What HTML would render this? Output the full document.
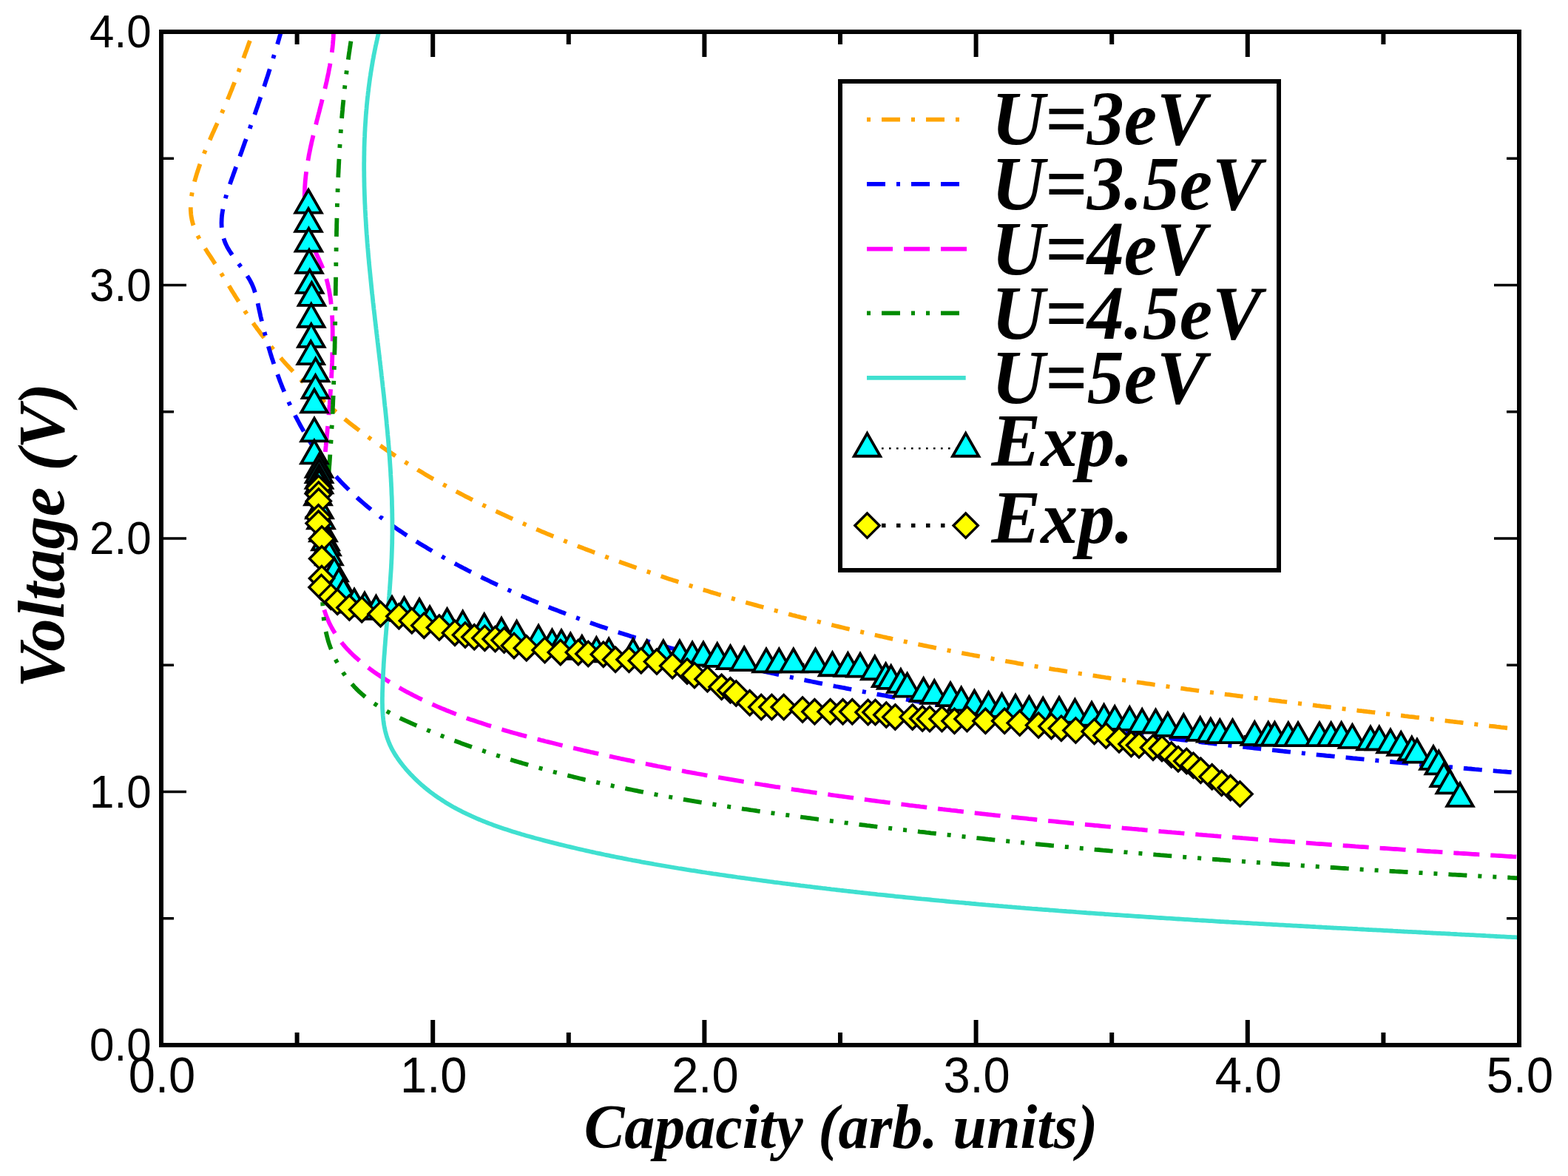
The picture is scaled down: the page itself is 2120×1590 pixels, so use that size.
<!DOCTYPE html>
<html><head><meta charset="utf-8"><title>Voltage vs Capacity</title>
<style>html,body{margin:0;padding:0;background:#fff;overflow:hidden}svg{display:block}.tk{font-family:"Liberation Sans",Arial,Helvetica,sans-serif}.lb{font-family:"Liberation Serif","Times New Roman",Times,serif;font-weight:bold;font-style:italic}</style>
</head><body>
<svg width="2120" height="1590" viewBox="0 0 2120 1590">
<rect x="0" y="0" width="2120" height="1590" fill="#fff"/>
<defs><clipPath id="cp"><rect x="218" y="43" width="1836" height="1370"/></clipPath>
<polygon id="tri" points="0,-20.4 17.7,10.45 -17.7,10.45" fill="#00ffff" stroke="#000" stroke-width="3.8" stroke-linejoin="miter"/>
<polygon id="dia" points="0,-16.6 16.6,0 0,16.6 -16.6,0" fill="#ffff00" stroke="#000" stroke-width="3.4" stroke-linejoin="miter"/>
</defs>
<g clip-path="url(#cp)" fill="none" stroke-linejoin="round">
<polyline points="344.8,36.2 343.8,39.0 342.7,41.9 341.6,44.8 340.6,47.6 339.5,50.4 338.5,53.3 337.5,56.1 336.4,58.9 335.4,61.7 334.4,64.5 333.4,67.4 332.4,70.1 331.3,72.9 330.3,75.7 329.3,78.5 328.3,81.3 327.3,84.0 326.3,86.8 325.2,89.6 324.2,92.3 323.2,95.1 322.2,97.8 321.1,100.6 320.1,103.3 319.1,106.1 318.0,108.8 317.0,111.6 315.9,114.3 314.8,117.0 313.8,119.8 312.7,122.5 311.6,125.2 310.5,128.0 309.4,130.7 308.2,133.4 307.1,136.2 306.0,138.9 304.8,141.6 303.6,144.4 302.4,147.1 301.2,149.8 300.0,152.6 298.8,155.3 297.6,158.1 296.4,160.8 295.1,163.6 293.9,166.3 292.6,169.1 291.4,171.8 290.1,174.6 288.9,177.4 287.6,180.1 286.4,182.9 285.2,185.7 284.0,188.5 282.7,191.3 281.5,194.1 280.3,196.9 279.2,199.7 278.0,202.5 276.8,205.3 275.7,208.1 274.6,210.9 273.5,213.8 272.4,216.6 271.3,219.5 270.3,222.3 269.3,225.2 268.3,228.1 267.4,231.0 266.4,233.9 265.5,236.8 264.7,239.7 263.8,242.6 263.0,245.5 262.3,248.5 261.6,251.4 260.9,254.3 260.3,257.3 259.8,260.2 259.3,263.2 258.8,266.1 258.5,269.0 258.2,271.9 258.0,274.8 257.8,277.7 257.8,280.6 257.8,283.5 258.0,286.4 258.2,289.2 258.5,292.0 259.0,294.8 259.5,297.6 260.2,300.3 260.9,303.0 261.8,305.7 262.8,308.4 263.8,311.1 264.9,313.7 266.1,316.3 267.4,318.9 268.8,321.5 270.2,324.1 271.6,326.6 273.1,329.2 274.7,331.7 276.3,334.3 277.9,336.8 279.5,339.3 281.1,341.9 282.8,344.4 284.5,346.9 286.1,349.4 287.8,352.0 289.4,354.5 291.0,357.0 292.7,359.6 294.3,362.1 295.9,364.7 297.5,367.2 299.1,369.7 300.7,372.3 302.3,374.8 303.8,377.4 305.4,379.9 307.0,382.5 308.6,385.0 310.2,387.6 311.7,390.1 313.3,392.7 314.9,395.2 316.5,397.7 318.0,400.3 319.6,402.8 321.2,405.3 322.8,407.8 324.4,410.3 326.0,412.8 327.7,415.3 329.3,417.8 330.9,420.3 332.6,422.8 334.2,425.3 335.9,427.7 337.6,430.2 339.3,432.6 341.0,435.1 342.7,437.5 344.4,439.9 346.2,442.3 347.9,444.7 349.7,447.1 351.5,449.5 353.3,451.9 355.1,454.2 356.9,456.6 358.7,459.0 360.6,461.3 362.4,463.6 364.3,465.9 366.2,468.2 368.1,470.5 370.0,472.8 371.9,475.1 373.8,477.4 375.7,479.7 377.7,481.9 379.7,484.2 381.6,486.4 383.6,488.6 385.6,490.9 387.6,493.1 389.6,495.3 391.6,497.5 393.7,499.6 395.7,501.8 397.8,504.0 399.8,506.1 401.9,508.3 404.0,510.4 406.1,512.6 408.2,514.7 410.3,516.8 412.5,518.9 414.6,521.0 416.7,523.1 418.9,525.2 421.1,527.2 423.2,529.3 425.4,531.3 427.6,533.4 429.8,535.4 432.0,537.4 434.2,539.5 436.5,541.5 438.7,543.5 441.0,545.4 443.2,547.4 445.5,549.4 447.7,551.4 450.0,553.3 452.3,555.3 454.6,557.2 456.9,559.1 459.2,561.0 461.5,562.9 463.9,564.8 466.2,566.7 468.5,568.6 470.9,570.5 473.3,572.4 475.6,574.2 478.0,576.1 480.4,577.9 482.8,579.7 485.1,581.5 487.5,583.4 490.0,585.2 492.4,587.0 494.8,588.7 497.2,590.5 499.6,592.3 502.1,594.1 504.5,595.8 507.0,597.5 509.4,599.3 511.9,601.0 514.4,602.7 516.8,604.4 519.3,606.1 521.8,607.8 524.3,609.5 526.8,611.2 529.3,612.8 531.8,614.5 534.3,616.1 536.8,617.8 539.3,619.4 541.9,621.0 544.4,622.6 546.9,624.2 549.5,625.8 552.0,627.4 554.6,629.0 557.1,630.6 559.7,632.2 562.3,633.7 564.8,635.3 567.4,636.8 570.0,638.3 572.6,639.9 575.1,641.4 577.7,642.9 580.3,644.4 582.9,645.9 585.5,647.4 588.2,648.8 590.8,650.3 593.4,651.8 596.0,653.2 598.6,654.7 601.3,656.1 603.9,657.6 606.5,659.0 609.2,660.4 611.8,661.8 614.5,663.2 617.1,664.6 619.8,666.0 622.4,667.4 625.1,668.8 627.8,670.2 630.4,671.6 633.1,672.9 635.8,674.3 638.5,675.6 641.1,677.0 643.8,678.3 646.5,679.6 649.2,681.0 651.9,682.3 654.6,683.6 657.3,684.9 660.0,686.2 662.7,687.5 665.4,688.8 668.1,690.1 670.9,691.3 673.6,692.6 676.3,693.9 679.0,695.1 681.8,696.4 684.5,697.6 687.2,698.9 689.9,700.1 692.7,701.3 695.4,702.6 698.2,703.8 700.9,705.0 703.7,706.2 706.4,707.4 709.2,708.6 711.9,709.8 714.7,711.0 717.4,712.2 720.2,713.4 722.9,714.6 725.7,715.8 728.5,716.9 731.2,718.1 734.0,719.3 736.8,720.4 739.5,721.6 742.3,722.7 745.1,723.9 747.8,725.0 750.6,726.1 753.4,727.3 756.2,728.4 759.0,729.5 761.7,730.6 764.5,731.8 767.3,732.9 770.1,734.0 772.9,735.1 775.7,736.2 778.5,737.3 781.2,738.4 784.0,739.5 786.8,740.5 789.6,741.6 792.4,742.7 795.2,743.8 798.0,744.8 800.8,745.9 803.6,747.0 806.4,748.0 809.2,749.1 812.0,750.1 814.8,751.2 817.6,752.2 820.4,753.3 823.2,754.3 826.1,755.3 828.9,756.4 831.7,757.4 834.5,758.4 837.3,759.4 840.1,760.5 842.9,761.5 845.8,762.5 848.6,763.5 851.4,764.5 854.2,765.5 857.0,766.5 859.9,767.5 862.7,768.5 865.5,769.4 868.3,770.4 871.2,771.4 874.0,772.4 876.8,773.3 879.6,774.3 882.5,775.3 885.3,776.2 888.1,777.2 891.0,778.1 893.8,779.1 896.6,780.0 899.5,781.0 902.3,781.9 905.2,782.9 908.0,783.8 910.8,784.7 913.7,785.6 916.5,786.6 919.4,787.5 922.2,788.4 925.1,789.3 927.9,790.2 930.8,791.1 933.6,792.0 936.5,792.9 939.3,793.8 942.2,794.7 945.0,795.6 947.9,796.5 950.7,797.4 953.6,798.2 956.5,799.1 959.3,800.0 962.2,800.9 965.0,801.7 967.9,802.6 970.8,803.5 973.6,804.3 976.5,805.2 979.4,806.0 982.2,806.9 985.1,807.7 988.0,808.6 990.8,809.4 993.7,810.2 996.6,811.1 999.4,811.9 1002.3,812.7 1005.2,813.5 1008.1,814.4 1010.9,815.2 1013.8,816.0 1016.7,816.8 1019.6,817.6 1022.5,818.4 1025.3,819.2 1028.2,820.0 1031.1,820.8 1034.0,821.6 1036.9,822.4 1039.8,823.2 1042.6,824.0 1045.5,824.8 1048.4,825.5 1051.3,826.3 1054.2,827.1 1057.1,827.9 1060.0,828.6 1062.9,829.4 1065.8,830.1 1068.6,830.9 1071.5,831.7 1074.4,832.4 1077.3,833.2 1080.2,833.9 1083.1,834.7 1086.0,835.4 1088.9,836.1 1091.8,836.9 1094.7,837.6 1097.6,838.3 1100.5,839.1 1103.4,839.8 1106.3,840.5 1109.2,841.2 1112.1,842.0 1115.0,842.7 1117.9,843.4 1120.9,844.1 1123.8,844.8 1126.7,845.5 1129.6,846.2 1132.5,846.9 1135.4,847.6 1138.3,848.3 1141.2,849.0 1144.1,849.7 1147.1,850.4 1150.0,851.0 1152.9,851.7 1155.8,852.4 1158.7,853.1 1161.6,853.8 1164.5,854.4 1167.5,855.1 1170.4,855.8 1173.3,856.4 1176.2,857.1 1179.1,857.7 1182.1,858.4 1185.0,859.0 1187.9,859.7 1190.8,860.3 1193.8,861.0 1196.7,861.6 1199.6,862.3 1202.5,862.9 1205.5,863.6 1208.4,864.2 1211.3,864.8 1214.3,865.5 1217.2,866.1 1220.1,866.7 1223.0,867.3 1226.0,867.9 1228.9,868.6 1231.8,869.2 1234.8,869.8 1237.7,870.4 1240.6,871.0 1243.6,871.6 1246.5,872.2 1249.4,872.8 1252.4,873.4 1255.3,874.0 1258.3,874.6 1261.2,875.2 1264.1,875.8 1267.1,876.4 1270.0,877.0 1273.0,877.6 1275.9,878.2 1278.8,878.7 1281.8,879.3 1284.7,879.9 1287.7,880.5 1290.6,881.0 1293.6,881.6 1296.5,882.2 1299.4,882.7 1302.4,883.3 1305.3,883.9 1308.3,884.4 1311.2,885.0 1314.2,885.5 1317.1,886.1 1320.1,886.6 1323.0,887.2 1326.0,887.7 1328.9,888.3 1331.9,888.8 1334.8,889.4 1337.8,889.9 1340.7,890.4 1343.7,891.0 1346.6,891.5 1349.6,892.1 1352.5,892.6 1355.5,893.1 1358.5,893.6 1361.4,894.2 1364.4,894.7 1367.3,895.2 1370.3,895.7 1373.2,896.2 1376.2,896.8 1379.1,897.3 1382.1,897.8 1385.1,898.3 1388.0,898.8 1391.0,899.3 1393.9,899.8 1396.9,900.3 1399.9,900.8 1402.8,901.3 1405.8,901.8 1408.7,902.3 1411.7,902.8 1414.7,903.3 1417.6,903.8 1420.6,904.3 1423.6,904.8 1426.5,905.3 1429.5,905.7 1432.4,906.2 1435.4,906.7 1438.4,907.2 1441.3,907.7 1444.3,908.1 1447.3,908.6 1450.2,909.1 1453.2,909.6 1456.2,910.0 1459.1,910.5 1462.1,911.0 1465.1,911.4 1468.0,911.9 1471.0,912.3 1474.0,912.8 1476.9,913.3 1479.9,913.7 1482.9,914.2 1485.9,914.6 1488.8,915.1 1491.8,915.5 1494.8,916.0 1497.7,916.4 1500.7,916.9 1503.7,917.3 1506.6,917.8 1509.6,918.2 1512.6,918.7 1515.6,919.1 1518.5,919.5 1521.5,920.0 1524.5,920.4 1527.4,920.9 1530.4,921.3 1533.4,921.7 1536.4,922.2 1539.3,922.6 1542.3,923.0 1545.3,923.4 1548.3,923.9 1551.2,924.3 1554.2,924.7 1557.2,925.1 1560.2,925.6 1563.1,926.0 1566.1,926.4 1569.1,926.8 1572.1,927.2 1575.0,927.7 1578.0,928.1 1581.0,928.5 1584.0,928.9 1586.9,929.3 1589.9,929.7 1592.9,930.1 1595.9,930.5 1598.8,930.9 1601.8,931.3 1604.8,931.8 1607.8,932.2 1610.7,932.6 1613.7,933.0 1616.7,933.4 1619.7,933.8 1622.6,934.2 1625.6,934.6 1628.6,934.9 1631.6,935.3 1634.6,935.7 1637.5,936.1 1640.5,936.5 1643.5,936.9 1646.5,937.3 1649.4,937.7 1652.4,938.1 1655.4,938.5 1658.4,938.9 1661.4,939.2 1664.3,939.6 1667.3,940.0 1670.3,940.4 1673.3,940.8 1676.2,941.2 1679.2,941.5 1682.2,941.9 1685.2,942.3 1688.2,942.7 1691.1,943.1 1694.1,943.4 1697.1,943.8 1700.1,944.2 1703.0,944.6 1706.0,944.9 1709.0,945.3 1712.0,945.7 1714.9,946.0 1717.9,946.4 1720.9,946.8 1723.9,947.2 1726.9,947.5 1729.8,947.9 1732.8,948.3 1735.8,948.6 1738.8,949.0 1741.7,949.4 1744.7,949.7 1747.7,950.1 1750.7,950.5 1753.6,950.8 1756.6,951.2 1759.6,951.5 1762.6,951.9 1765.6,952.3 1768.5,952.6 1771.5,953.0 1774.5,953.3 1777.5,953.7 1780.4,954.1 1783.4,954.4 1786.4,954.8 1789.4,955.1 1792.3,955.5 1795.3,955.8 1798.3,956.2 1801.3,956.5 1804.2,956.9 1807.2,957.3 1810.2,957.6 1813.1,958.0 1816.1,958.3 1819.1,958.7 1822.1,959.0 1825.0,959.4 1828.0,959.7 1831.0,960.1 1834.0,960.4 1836.9,960.8 1839.9,961.1 1842.9,961.5 1845.8,961.8 1848.8,962.2 1851.8,962.5 1854.8,962.9 1857.7,963.2 1860.7,963.6 1863.7,963.9 1866.6,964.3 1869.6,964.6 1872.6,965.0 1875.5,965.3 1878.5,965.6 1881.5,966.0 1884.4,966.3 1887.4,966.7 1890.4,967.0 1893.3,967.4 1896.3,967.7 1899.3,968.1 1902.2,968.4 1905.2,968.8 1908.2,969.1 1911.1,969.4 1914.1,969.8 1917.1,970.1 1920.0,970.5 1923.0,970.8 1926.0,971.2 1928.9,971.5 1931.9,971.9 1934.9,972.2 1937.8,972.6 1940.8,972.9 1943.7,973.2 1946.7,973.6 1949.7,973.9 1952.6,974.3 1955.6,974.6 1958.5,975.0 1961.5,975.3 1964.5,975.7 1967.4,976.0 1970.4,976.4 1973.3,976.7 1976.3,977.0 1979.3,977.4 1982.2,977.7 1985.2,978.1 1988.1,978.4 1991.1,978.8 1994.0,979.1 1997.0,979.5 1999.9,979.8 2002.9,980.2 2005.8,980.5 2008.8,980.9 2011.8,981.2 2014.7,981.6 2017.7,981.9 2020.6,982.2 2023.6,982.6 2026.5,982.9 2029.5,983.3 2032.4,983.6 2035.4,984.0 2038.3,984.3 2041.3,984.7 2044.2,985.1 2047.1,985.4 2050.1,985.8 2053.0,986.1 2056.0,986.5 2058.9,986.8" stroke="#ffa500" stroke-width="5.8" stroke-dasharray="5,15,25,15"/>
<polyline points="382.0,35.8 381.2,38.7 380.3,41.6 379.5,44.6 378.7,47.5 377.8,50.4 377.0,53.3 376.1,56.2 375.3,59.2 374.4,62.0 373.5,64.9 372.7,67.8 371.8,70.7 370.9,73.6 370.0,76.5 369.2,79.3 368.3,82.2 367.4,85.0 366.5,87.9 365.6,90.8 364.7,93.6 363.8,96.4 362.9,99.3 362.0,102.1 361.1,105.0 360.1,107.8 359.2,110.6 358.3,113.4 357.4,116.3 356.4,119.1 355.5,121.9 354.6,124.7 353.6,127.5 352.7,130.4 351.7,133.2 350.8,136.0 349.8,138.8 348.9,141.6 347.9,144.4 346.9,147.2 346.0,150.0 345.0,152.9 344.0,155.7 343.1,158.5 342.1,161.3 341.1,164.1 340.1,166.9 339.1,169.7 338.1,172.6 337.2,175.4 336.2,178.2 335.2,181.0 334.2,183.9 333.2,186.7 332.2,189.5 331.1,192.3 330.1,195.2 329.1,198.0 328.1,200.9 327.1,203.7 326.1,206.5 325.0,209.4 324.0,212.3 323.0,215.1 322.0,218.0 320.9,220.9 319.9,223.7 318.8,226.6 317.8,229.5 316.8,232.4 315.7,235.3 314.7,238.2 313.6,241.1 312.6,244.0 311.6,246.9 310.6,249.8 309.6,252.7 308.6,255.6 307.7,258.5 306.7,261.5 305.9,264.4 305.0,267.3 304.2,270.2 303.5,273.1 302.8,276.0 302.2,278.8 301.6,281.7 301.1,284.6 300.6,287.5 300.2,290.3 299.9,293.1 299.7,296.0 299.6,298.8 299.5,301.6 299.6,304.4 299.7,307.1 299.9,309.9 300.3,312.6 300.7,315.4 301.3,318.1 302.0,320.8 302.8,323.4 303.7,326.1 304.7,328.7 305.9,331.3 307.2,333.9 308.7,336.4 310.2,339.0 311.8,341.5 313.5,344.0 315.2,346.5 317.0,349.0 318.9,351.5 320.7,354.1 322.6,356.6 324.5,359.1 326.4,361.6 328.2,364.1 330.1,366.6 331.8,369.2 333.6,371.8 335.2,374.4 336.8,377.0 338.3,379.6 339.7,382.3 341.0,385.0 342.1,387.7 343.2,390.4 344.1,393.2 345.0,396.0 345.8,398.8 346.6,401.7 347.3,404.5 348.0,407.4 348.6,410.2 349.2,413.1 349.8,416.0 350.4,418.9 351.1,421.8 351.7,424.7 352.3,427.6 353.0,430.4 353.7,433.3 354.4,436.2 355.1,439.1 355.8,442.0 356.5,444.9 357.2,447.8 358.0,450.7 358.7,453.6 359.5,456.5 360.3,459.4 361.1,462.3 361.9,465.1 362.8,468.0 363.6,470.9 364.5,473.8 365.3,476.7 366.2,479.5 367.1,482.4 368.0,485.3 369.0,488.1 369.9,491.0 370.9,493.8 371.8,496.7 372.8,499.5 373.8,502.4 374.8,505.2 375.9,508.0 376.9,510.8 378.0,513.7 379.0,516.5 380.1,519.3 381.2,522.1 382.3,524.9 383.5,527.6 384.6,530.4 385.8,533.2 387.0,535.9 388.2,538.7 389.4,541.4 390.6,544.2 391.9,546.9 393.2,549.6 394.4,552.3 395.7,555.0 397.1,557.7 398.4,560.4 399.7,563.1 401.1,565.7 402.5,568.4 403.9,571.0 405.3,573.7 406.7,576.3 408.2,578.9 409.7,581.5 411.1,584.1 412.6,586.6 414.2,589.2 415.7,591.7 417.3,594.3 418.8,596.8 420.4,599.3 422.1,601.8 423.7,604.3 425.3,606.8 427.0,609.2 428.7,611.6 430.4,614.1 432.1,616.5 433.9,618.9 435.6,621.2 437.4,623.6 439.2,626.0 441.0,628.3 442.9,630.6 444.7,632.9 446.6,635.2 448.5,637.5 450.5,639.7 452.4,641.9 454.3,644.2 456.3,646.4 458.3,648.5 460.3,650.7 462.4,652.9 464.4,655.0 466.5,657.1 468.6,659.2 470.7,661.3 472.8,663.4 474.9,665.4 477.1,667.5 479.2,669.5 481.4,671.5 483.6,673.5 485.8,675.5 488.1,677.5 490.3,679.4 492.6,681.4 494.8,683.3 497.1,685.2 499.4,687.1 501.7,689.0 504.1,690.9 506.4,692.8 508.8,694.6 511.1,696.4 513.5,698.3 515.9,700.1 518.3,701.9 520.7,703.7 523.1,705.4 525.6,707.2 528.0,709.0 530.5,710.7 532.9,712.4 535.4,714.1 537.9,715.8 540.4,717.5 542.9,719.2 545.4,720.9 547.9,722.5 550.5,724.2 553.0,725.8 555.6,727.5 558.1,729.1 560.7,730.7 563.2,732.3 565.8,733.9 568.4,735.5 571.0,737.0 573.6,738.6 576.2,740.1 578.8,741.7 581.4,743.2 584.0,744.7 586.6,746.3 589.3,747.8 591.9,749.3 594.5,750.7 597.2,752.2 599.8,753.7 602.5,755.2 605.1,756.6 607.8,758.1 610.4,759.5 613.1,761.0 615.7,762.4 618.4,763.8 621.1,765.2 623.7,766.6 626.4,768.0 629.1,769.4 631.7,770.8 634.4,772.2 637.1,773.5 639.8,774.9 642.5,776.2 645.2,777.6 647.9,778.9 650.6,780.3 653.2,781.6 655.9,782.9 658.7,784.2 661.4,785.5 664.1,786.8 666.8,788.1 669.5,789.4 672.2,790.7 674.9,791.9 677.6,793.2 680.4,794.5 683.1,795.7 685.8,797.0 688.6,798.2 691.3,799.4 694.0,800.6 696.8,801.9 699.5,803.1 702.2,804.3 705.0,805.5 707.7,806.7 710.5,807.8 713.2,809.0 716.0,810.2 718.7,811.4 721.5,812.5 724.3,813.7 727.0,814.8 729.8,815.9 732.6,817.1 735.3,818.2 738.1,819.3 740.9,820.4 743.7,821.6 746.4,822.7 749.2,823.8 752.0,824.8 754.8,825.9 757.6,827.0 760.4,828.1 763.2,829.1 766.0,830.2 768.7,831.3 771.5,832.3 774.3,833.4 777.1,834.4 780.0,835.4 782.8,836.5 785.6,837.5 788.4,838.5 791.2,839.5 794.0,840.5 796.8,841.5 799.6,842.5 802.5,843.5 805.3,844.5 808.1,845.4 810.9,846.4 813.8,847.4 816.6,848.3 819.4,849.3 822.2,850.3 825.1,851.2 827.9,852.1 830.7,853.1 833.6,854.0 836.4,854.9 839.3,855.9 842.1,856.8 845.0,857.7 847.8,858.6 850.7,859.5 853.5,860.4 856.4,861.3 859.2,862.2 862.1,863.0 864.9,863.9 867.8,864.8 870.7,865.7 873.5,866.5 876.4,867.4 879.2,868.2 882.1,869.1 885.0,869.9 887.8,870.8 890.7,871.6 893.6,872.4 896.5,873.3 899.3,874.1 902.2,874.9 905.1,875.7 908.0,876.5 910.9,877.3 913.7,878.1 916.6,878.9 919.5,879.7 922.4,880.5 925.3,881.3 928.2,882.1 931.1,882.9 934.0,883.6 936.8,884.4 939.7,885.2 942.6,885.9 945.5,886.7 948.4,887.4 951.3,888.2 954.2,888.9 957.1,889.7 960.0,890.4 962.9,891.1 965.8,891.9 968.7,892.6 971.6,893.3 974.6,894.0 977.5,894.8 980.4,895.5 983.3,896.2 986.2,896.9 989.1,897.6 992.0,898.3 994.9,899.0 997.9,899.7 1000.8,900.4 1003.7,901.1 1006.6,901.7 1009.5,902.4 1012.4,903.1 1015.4,903.8 1018.3,904.4 1021.2,905.1 1024.1,905.8 1027.1,906.4 1030.0,907.1 1032.9,907.8 1035.8,908.4 1038.8,909.1 1041.7,909.7 1044.6,910.3 1047.6,911.0 1050.5,911.6 1053.4,912.3 1056.3,912.9 1059.3,913.5 1062.2,914.2 1065.1,914.8 1068.1,915.4 1071.0,916.0 1073.9,916.6 1076.9,917.3 1079.8,917.9 1082.8,918.5 1085.7,919.1 1088.6,919.7 1091.6,920.3 1094.5,920.9 1097.5,921.5 1100.4,922.1 1103.3,922.7 1106.3,923.3 1109.2,923.9 1112.2,924.5 1115.1,925.1 1118.0,925.6 1121.0,926.2 1123.9,926.8 1126.9,927.4 1129.8,928.0 1132.8,928.5 1135.7,929.1 1138.7,929.7 1141.6,930.2 1144.6,930.8 1147.5,931.4 1150.4,931.9 1153.4,932.5 1156.3,933.1 1159.3,933.6 1162.2,934.2 1165.2,934.7 1168.1,935.3 1171.1,935.8 1174.0,936.4 1177.0,936.9 1179.9,937.5 1182.9,938.0 1185.8,938.6 1188.8,939.1 1191.7,939.7 1194.7,940.2 1197.6,940.7 1200.6,941.3 1203.5,941.8 1206.5,942.4 1209.4,942.9 1212.4,943.4 1215.3,943.9 1218.3,944.5 1221.2,945.0 1224.2,945.5 1227.1,946.0 1230.1,946.6 1233.0,947.1 1236.0,947.6 1238.9,948.1 1241.9,948.6 1244.9,949.1 1247.8,949.7 1250.8,950.2 1253.7,950.7 1256.7,951.2 1259.6,951.7 1262.6,952.2 1265.5,952.7 1268.5,953.2 1271.4,953.7 1274.4,954.2 1277.4,954.7 1280.3,955.2 1283.3,955.7 1286.2,956.2 1289.2,956.6 1292.1,957.1 1295.1,957.6 1298.1,958.1 1301.0,958.6 1304.0,959.1 1306.9,959.6 1309.9,960.0 1312.9,960.5 1315.8,961.0 1318.8,961.5 1321.7,961.9 1324.7,962.4 1327.7,962.9 1330.6,963.4 1333.6,963.8 1336.5,964.3 1339.5,964.8 1342.5,965.2 1345.4,965.7 1348.4,966.1 1351.3,966.6 1354.3,967.1 1357.3,967.5 1360.2,968.0 1363.2,968.4 1366.1,968.9 1369.1,969.3 1372.1,969.8 1375.0,970.2 1378.0,970.7 1381.0,971.1 1383.9,971.6 1386.9,972.0 1389.9,972.5 1392.8,972.9 1395.8,973.3 1398.7,973.8 1401.7,974.2 1404.7,974.6 1407.6,975.1 1410.6,975.5 1413.6,975.9 1416.5,976.4 1419.5,976.8 1422.5,977.2 1425.4,977.7 1428.4,978.1 1431.4,978.5 1434.3,978.9 1437.3,979.3 1440.3,979.8 1443.2,980.2 1446.2,980.6 1449.2,981.0 1452.1,981.4 1455.1,981.8 1458.1,982.3 1461.0,982.7 1464.0,983.1 1467.0,983.5 1469.9,983.9 1472.9,984.3 1475.9,984.7 1478.8,985.1 1481.8,985.5 1484.8,985.9 1487.8,986.3 1490.7,986.7 1493.7,987.1 1496.7,987.5 1499.6,987.9 1502.6,988.3 1505.6,988.7 1508.5,989.1 1511.5,989.5 1514.5,989.8 1517.5,990.2 1520.4,990.6 1523.4,991.0 1526.4,991.4 1529.3,991.8 1532.3,992.2 1535.3,992.5 1538.3,992.9 1541.2,993.3 1544.2,993.7 1547.2,994.1 1550.2,994.4 1553.1,994.8 1556.1,995.2 1559.1,995.5 1562.0,995.9 1565.0,996.3 1568.0,996.7 1571.0,997.0 1573.9,997.4 1576.9,997.8 1579.9,998.1 1582.9,998.5 1585.8,998.8 1588.8,999.2 1591.8,999.6 1594.8,999.9 1597.7,1000.3 1600.7,1000.6 1603.7,1001.0 1606.7,1001.3 1609.6,1001.7 1612.6,1002.1 1615.6,1002.4 1618.6,1002.8 1621.5,1003.1 1624.5,1003.5 1627.5,1003.8 1630.5,1004.1 1633.4,1004.5 1636.4,1004.8 1639.4,1005.2 1642.4,1005.5 1645.4,1005.9 1648.3,1006.2 1651.3,1006.5 1654.3,1006.9 1657.3,1007.2 1660.2,1007.6 1663.2,1007.9 1666.2,1008.2 1669.2,1008.6 1672.2,1008.9 1675.1,1009.2 1678.1,1009.6 1681.1,1009.9 1684.1,1010.2 1687.0,1010.5 1690.0,1010.9 1693.0,1011.2 1696.0,1011.5 1699.0,1011.8 1701.9,1012.2 1704.9,1012.5 1707.9,1012.8 1710.9,1013.1 1713.9,1013.4 1716.8,1013.8 1719.8,1014.1 1722.8,1014.4 1725.8,1014.7 1728.8,1015.0 1731.7,1015.3 1734.7,1015.7 1737.7,1016.0 1740.7,1016.3 1743.7,1016.6 1746.6,1016.9 1749.6,1017.2 1752.6,1017.5 1755.6,1017.8 1758.6,1018.1 1761.5,1018.4 1764.5,1018.7 1767.5,1019.1 1770.5,1019.4 1773.5,1019.7 1776.5,1020.0 1779.4,1020.3 1782.4,1020.6 1785.4,1020.9 1788.4,1021.2 1791.4,1021.5 1794.3,1021.8 1797.3,1022.0 1800.3,1022.3 1803.3,1022.6 1806.3,1022.9 1809.3,1023.2 1812.2,1023.5 1815.2,1023.8 1818.2,1024.1 1821.2,1024.4 1824.2,1024.7 1827.2,1025.0 1830.1,1025.3 1833.1,1025.5 1836.1,1025.8 1839.1,1026.1 1842.1,1026.4 1845.1,1026.7 1848.0,1027.0 1851.0,1027.2 1854.0,1027.5 1857.0,1027.8 1860.0,1028.1 1863.0,1028.4 1865.9,1028.6 1868.9,1028.9 1871.9,1029.2 1874.9,1029.5 1877.9,1029.8 1880.9,1030.0 1883.9,1030.3 1886.8,1030.6 1889.8,1030.9 1892.8,1031.1 1895.8,1031.4 1898.8,1031.7 1901.8,1031.9 1904.7,1032.2 1907.7,1032.5 1910.7,1032.8 1913.7,1033.0 1916.7,1033.3 1919.7,1033.6 1922.7,1033.8 1925.6,1034.1 1928.6,1034.4 1931.6,1034.6 1934.6,1034.9 1937.6,1035.1 1940.6,1035.4 1943.6,1035.7 1946.5,1035.9 1949.5,1036.2 1952.5,1036.5 1955.5,1036.7 1958.5,1037.0 1961.5,1037.2 1964.5,1037.5 1967.5,1037.8 1970.4,1038.0 1973.4,1038.3 1976.4,1038.5 1979.4,1038.8 1982.4,1039.0 1985.4,1039.3 1988.4,1039.5 1991.3,1039.8 1994.3,1040.1 1997.3,1040.3 2000.3,1040.6 2003.3,1040.8 2006.3,1041.1 2009.3,1041.3 2012.2,1041.6 2015.2,1041.8 2018.2,1042.1 2021.2,1042.3 2024.2,1042.6 2027.2,1042.8 2030.2,1043.1 2033.2,1043.3 2036.1,1043.5 2039.1,1043.8 2042.1,1044.0 2045.1,1044.3 2048.1,1044.5 2051.1,1044.8 2054.1,1045.0 2057.1,1045.3 2060.0,1045.5" stroke="#0000ff" stroke-width="5.8" stroke-dasharray="25,15,5,15,25,15"/>
<polyline points="451.1,36.0 451.1,39.0 451.1,42.0 451.0,44.9 450.8,47.9 450.7,50.9 450.5,53.8 450.2,56.8 450.0,59.8 449.7,62.7 449.4,65.7 449.0,68.6 448.7,71.6 448.2,74.5 447.8,77.5 447.4,80.4 446.9,83.4 446.4,86.3 445.9,89.3 445.3,92.2 444.7,95.2 444.2,98.1 443.6,101.0 442.9,104.0 442.3,106.9 441.7,109.9 441.0,112.8 440.3,115.8 439.6,118.7 438.9,121.6 438.2,124.6 437.5,127.5 436.8,130.4 436.0,133.4 435.3,136.3 434.6,139.2 433.8,142.2 433.1,145.1 432.3,148.1 431.6,151.0 430.8,153.9 430.0,156.9 429.3,159.8 428.5,162.7 427.8,165.7 427.1,168.6 426.3,171.5 425.6,174.5 424.9,177.4 424.2,180.3 423.5,183.3 422.8,186.2 422.1,189.2 421.4,192.1 420.8,195.0 420.1,198.0 419.5,200.9 418.9,203.9 418.3,206.8 417.7,209.7 417.2,212.7 416.7,215.6 416.2,218.6 415.7,221.5 415.2,224.5 414.8,227.4 414.4,230.4 414.0,233.3 413.6,236.3 413.3,239.2 413.0,242.2 412.7,245.1 412.5,248.1 412.3,251.0 412.1,254.0 412.0,257.0 411.9,259.9 411.8,262.9 411.8,265.9 411.8,268.8 411.9,271.8 412.0,274.7 412.1,277.7 412.3,280.7 412.5,283.6 412.8,286.6 413.1,289.5 413.4,292.5 413.8,295.4 414.2,298.3 414.7,301.3 415.3,304.2 415.8,307.1 416.5,310.0 417.1,312.9 417.9,315.7 418.7,318.6 419.5,321.4 420.4,324.3 421.3,327.1 422.3,329.9 423.4,332.7 424.5,335.4 425.6,338.2 426.8,340.9 428.0,343.7 429.3,346.4 430.5,349.1 431.8,351.8 433.0,354.6 434.2,357.3 435.4,360.1 436.5,362.8 437.5,365.6 438.6,368.4 439.5,371.3 440.4,374.1 441.3,377.0 442.1,379.9 442.8,382.8 443.5,385.7 444.1,388.6 444.8,391.5 445.3,394.5 445.8,397.4 446.3,400.4 446.8,403.4 447.2,406.4 447.5,409.4 447.9,412.4 448.2,415.4 448.4,418.4 448.7,421.5 448.9,424.5 449.1,427.5 449.2,430.6 449.4,433.6 449.5,436.6 449.5,439.7 449.6,442.7 449.7,445.8 449.7,448.8 449.7,451.8 449.7,454.9 449.7,457.9 449.7,460.9 449.6,464.0 449.6,467.0 449.5,470.0 449.5,473.0 449.4,476.0 449.3,479.0 449.3,481.9 449.2,484.9 449.1,487.9 449.0,490.9 448.8,493.8 448.7,496.8 448.6,499.8 448.5,502.7 448.3,505.7 448.2,508.6 448.0,511.5 447.8,514.5 447.7,517.4 447.5,520.4 447.3,523.3 447.1,526.2 446.9,529.2 446.7,532.1 446.5,535.0 446.3,537.9 446.1,540.9 445.9,543.8 445.7,546.7 445.4,549.6 445.2,552.5 445.0,555.4 444.7,558.4 444.5,561.3 444.2,564.2 444.0,567.1 443.7,570.0 443.4,573.0 443.2,575.9 442.9,578.8 442.6,581.7 442.4,584.6 442.1,587.6 441.8,590.5 441.5,593.4 441.2,596.4 440.9,599.3 440.7,602.2 440.4,605.2 440.1,608.1 439.8,611.1 439.5,614.0 439.2,617.0 438.9,619.9 438.6,622.9 438.3,625.8 438.0,628.8 437.7,631.8 437.4,634.8 437.1,637.8 436.8,640.7 436.5,643.7 436.2,646.7 435.9,649.7 435.6,652.7 435.3,655.8 435.0,658.8 434.7,661.8 434.4,664.9 434.1,667.9 433.8,670.9 433.5,674.0 433.2,677.1 432.9,680.1 432.6,683.2 432.3,686.3 432.0,689.4 431.7,692.5 431.5,695.6 431.2,698.7 431.0,701.8 430.7,704.9 430.5,708.0 430.2,711.2 430.0,714.3 429.8,717.4 429.6,720.5 429.4,723.6 429.3,726.8 429.1,729.9 429.0,733.0 428.9,736.1 428.8,739.2 428.7,742.3 428.7,745.4 428.6,748.5 428.6,751.6 428.7,754.7 428.7,757.8 428.8,760.8 428.9,763.9 429.0,766.9 429.1,770.0 429.3,773.0 429.5,776.0 429.7,779.0 430.0,782.0 430.3,785.0 430.6,787.9 431.0,790.9 431.4,793.8 431.9,796.8 432.3,799.7 432.9,802.5 433.4,805.4 434.0,808.3 434.6,811.1 435.3,813.9 436.0,816.7 436.8,819.5 437.6,822.2 438.5,825.0 439.4,827.7 440.3,830.4 441.3,833.0 442.4,835.7 443.5,838.3 444.6,840.9 445.8,843.4 447.1,846.0 448.4,848.5 449.8,851.0 451.2,853.4 452.7,855.8 454.2,858.2 455.8,860.6 457.4,862.9 459.1,865.2 460.9,867.5 462.7,869.8 464.5,872.0 466.4,874.2 468.4,876.4 470.4,878.5 472.4,880.6 474.5,882.7 476.6,884.8 478.8,886.8 480.9,888.8 483.2,890.8 485.4,892.7 487.7,894.7 490.0,896.6 492.4,898.5 494.8,900.3 497.2,902.2 499.6,904.0 502.1,905.8 504.5,907.6 507.0,909.3 509.5,911.1 512.1,912.8 514.6,914.5 517.2,916.1 519.8,917.8 522.3,919.4 524.9,921.0 527.5,922.6 530.2,924.2 532.8,925.7 535.4,927.3 538.0,928.8 540.7,930.3 543.3,931.8 546.0,933.2 548.6,934.7 551.3,936.1 554.0,937.5 556.6,938.9 559.3,940.3 562.0,941.6 564.7,943.0 567.4,944.3 570.1,945.6 572.8,946.9 575.5,948.2 578.3,949.5 581.0,950.7 583.7,951.9 586.5,953.2 589.2,954.4 592.0,955.6 594.7,956.7 597.5,957.9 600.3,959.0 603.0,960.2 605.8,961.3 608.6,962.4 611.4,963.5 614.2,964.6 616.9,965.7 619.7,966.7 622.6,967.8 625.4,968.8 628.2,969.8 631.0,970.9 633.8,971.9 636.6,972.9 639.5,973.8 642.3,974.8 645.1,975.8 648.0,976.7 650.8,977.6 653.6,978.6 656.5,979.5 659.3,980.4 662.2,981.3 665.1,982.2 667.9,983.1 670.8,984.0 673.6,984.8 676.5,985.7 679.4,986.5 682.3,987.4 685.1,988.2 688.0,989.0 690.9,989.9 693.8,990.7 696.7,991.5 699.6,992.3 702.4,993.1 705.3,993.9 708.2,994.6 711.1,995.4 714.0,996.2 716.9,996.9 719.8,997.7 722.7,998.5 725.6,999.2 728.5,999.9 731.4,1000.7 734.3,1001.4 737.3,1002.2 740.2,1002.9 743.1,1003.6 746.0,1004.3 748.9,1005.0 751.8,1005.8 754.7,1006.5 757.6,1007.2 760.5,1007.9 763.5,1008.6 766.4,1009.3 769.3,1010.0 772.2,1010.7 775.1,1011.4 778.0,1012.0 781.0,1012.7 783.9,1013.4 786.8,1014.1 789.7,1014.8 792.6,1015.4 795.6,1016.1 798.5,1016.8 801.4,1017.4 804.3,1018.1 807.2,1018.7 810.2,1019.4 813.1,1020.0 816.0,1020.7 818.9,1021.3 821.9,1022.0 824.8,1022.6 827.7,1023.2 830.7,1023.9 833.6,1024.5 836.5,1025.1 839.4,1025.8 842.4,1026.4 845.3,1027.0 848.2,1027.6 851.2,1028.2 854.1,1028.8 857.0,1029.5 860.0,1030.1 862.9,1030.7 865.8,1031.3 868.8,1031.9 871.7,1032.5 874.6,1033.0 877.6,1033.6 880.5,1034.2 883.5,1034.8 886.4,1035.4 889.3,1036.0 892.3,1036.5 895.2,1037.1 898.2,1037.7 901.1,1038.3 904.0,1038.8 907.0,1039.4 909.9,1039.9 912.9,1040.5 915.8,1041.1 918.8,1041.6 921.7,1042.2 924.7,1042.7 927.6,1043.3 930.5,1043.8 933.5,1044.3 936.4,1044.9 939.4,1045.4 942.3,1046.0 945.3,1046.5 948.2,1047.0 951.2,1047.5 954.1,1048.1 957.1,1048.6 960.0,1049.1 963.0,1049.6 965.9,1050.1 968.9,1050.7 971.8,1051.2 974.8,1051.7 977.7,1052.2 980.7,1052.7 983.6,1053.2 986.6,1053.7 989.6,1054.2 992.5,1054.7 995.5,1055.2 998.4,1055.7 1001.4,1056.2 1004.3,1056.7 1007.3,1057.1 1010.3,1057.6 1013.2,1058.1 1016.2,1058.6 1019.1,1059.1 1022.1,1059.6 1025.0,1060.0 1028.0,1060.5 1031.0,1061.0 1033.9,1061.4 1036.9,1061.9 1039.8,1062.4 1042.8,1062.8 1045.8,1063.3 1048.7,1063.8 1051.7,1064.2 1054.7,1064.7 1057.6,1065.1 1060.6,1065.6 1063.5,1066.0 1066.5,1066.5 1069.5,1066.9 1072.4,1067.4 1075.4,1067.8 1078.4,1068.2 1081.3,1068.7 1084.3,1069.1 1087.3,1069.6 1090.2,1070.0 1093.2,1070.4 1096.2,1070.9 1099.1,1071.3 1102.1,1071.7 1105.1,1072.1 1108.0,1072.6 1111.0,1073.0 1114.0,1073.4 1116.9,1073.8 1119.9,1074.2 1122.9,1074.7 1125.8,1075.1 1128.8,1075.5 1131.8,1075.9 1134.7,1076.3 1137.7,1076.7 1140.7,1077.1 1143.6,1077.5 1146.6,1077.9 1149.6,1078.3 1152.6,1078.7 1155.5,1079.1 1158.5,1079.5 1161.5,1079.9 1164.4,1080.3 1167.4,1080.7 1170.4,1081.1 1173.4,1081.5 1176.3,1081.9 1179.3,1082.3 1182.3,1082.7 1185.2,1083.1 1188.2,1083.5 1191.2,1083.9 1194.2,1084.2 1197.1,1084.6 1200.1,1085.0 1203.1,1085.4 1206.1,1085.8 1209.0,1086.1 1212.0,1086.5 1215.0,1086.9 1218.0,1087.3 1220.9,1087.6 1223.9,1088.0 1226.9,1088.4 1229.8,1088.8 1232.8,1089.1 1235.8,1089.5 1238.8,1089.9 1241.7,1090.2 1244.7,1090.6 1247.7,1090.9 1250.7,1091.3 1253.6,1091.7 1256.6,1092.0 1259.6,1092.4 1262.6,1092.7 1265.6,1093.1 1268.5,1093.5 1271.5,1093.8 1274.5,1094.2 1277.5,1094.5 1280.4,1094.9 1283.4,1095.2 1286.4,1095.6 1289.4,1095.9 1292.3,1096.2 1295.3,1096.6 1298.3,1096.9 1301.3,1097.3 1304.3,1097.6 1307.2,1098.0 1310.2,1098.3 1313.2,1098.6 1316.2,1099.0 1319.1,1099.3 1322.1,1099.6 1325.1,1100.0 1328.1,1100.3 1331.1,1100.6 1334.0,1101.0 1337.0,1101.3 1340.0,1101.6 1343.0,1102.0 1346.0,1102.3 1348.9,1102.6 1351.9,1102.9 1354.9,1103.3 1357.9,1103.6 1360.9,1103.9 1363.8,1104.2 1366.8,1104.5 1369.8,1104.9 1372.8,1105.2 1375.8,1105.5 1378.7,1105.8 1381.7,1106.1 1384.7,1106.4 1387.7,1106.7 1390.7,1107.1 1393.6,1107.4 1396.6,1107.7 1399.6,1108.0 1402.6,1108.3 1405.6,1108.6 1408.5,1108.9 1411.5,1109.2 1414.5,1109.5 1417.5,1109.8 1420.5,1110.1 1423.5,1110.4 1426.4,1110.7 1429.4,1111.0 1432.4,1111.3 1435.4,1111.6 1438.4,1111.9 1441.3,1112.2 1444.3,1112.5 1447.3,1112.8 1450.3,1113.1 1453.3,1113.4 1456.3,1113.7 1459.2,1114.0 1462.2,1114.2 1465.2,1114.5 1468.2,1114.8 1471.2,1115.1 1474.2,1115.4 1477.1,1115.7 1480.1,1116.0 1483.1,1116.2 1486.1,1116.5 1489.1,1116.8 1492.1,1117.1 1495.1,1117.4 1498.0,1117.6 1501.0,1117.9 1504.0,1118.2 1507.0,1118.5 1510.0,1118.8 1513.0,1119.0 1515.9,1119.3 1518.9,1119.6 1521.9,1119.8 1524.9,1120.1 1527.9,1120.4 1530.9,1120.7 1533.9,1120.9 1536.8,1121.2 1539.8,1121.5 1542.8,1121.7 1545.8,1122.0 1548.8,1122.3 1551.8,1122.5 1554.8,1122.8 1557.7,1123.0 1560.7,1123.3 1563.7,1123.6 1566.7,1123.8 1569.7,1124.1 1572.7,1124.3 1575.7,1124.6 1578.6,1124.9 1581.6,1125.1 1584.6,1125.4 1587.6,1125.6 1590.6,1125.9 1593.6,1126.1 1596.6,1126.4 1599.6,1126.6 1602.5,1126.9 1605.5,1127.1 1608.5,1127.4 1611.5,1127.6 1614.5,1127.9 1617.5,1128.1 1620.5,1128.4 1623.4,1128.6 1626.4,1128.9 1629.4,1129.1 1632.4,1129.4 1635.4,1129.6 1638.4,1129.8 1641.4,1130.1 1644.4,1130.3 1647.3,1130.6 1650.3,1130.8 1653.3,1131.1 1656.3,1131.3 1659.3,1131.5 1662.3,1131.8 1665.3,1132.0 1668.3,1132.2 1671.3,1132.5 1674.2,1132.7 1677.2,1132.9 1680.2,1133.2 1683.2,1133.4 1686.2,1133.6 1689.2,1133.9 1692.2,1134.1 1695.2,1134.3 1698.2,1134.6 1701.1,1134.8 1704.1,1135.0 1707.1,1135.3 1710.1,1135.5 1713.1,1135.7 1716.1,1135.9 1719.1,1136.2 1722.1,1136.4 1725.1,1136.6 1728.0,1136.8 1731.0,1137.1 1734.0,1137.3 1737.0,1137.5 1740.0,1137.7 1743.0,1137.9 1746.0,1138.2 1749.0,1138.4 1752.0,1138.6 1754.9,1138.8 1757.9,1139.0 1760.9,1139.3 1763.9,1139.5 1766.9,1139.7 1769.9,1139.9 1772.9,1140.1 1775.9,1140.3 1778.9,1140.6 1781.9,1140.8 1784.8,1141.0 1787.8,1141.2 1790.8,1141.4 1793.8,1141.6 1796.8,1141.8 1799.8,1142.1 1802.8,1142.3 1805.8,1142.5 1808.8,1142.7 1811.8,1142.9 1814.7,1143.1 1817.7,1143.3 1820.7,1143.5 1823.7,1143.7 1826.7,1143.9 1829.7,1144.1 1832.7,1144.4 1835.7,1144.6 1838.7,1144.8 1841.7,1145.0 1844.6,1145.2 1847.6,1145.4 1850.6,1145.6 1853.6,1145.8 1856.6,1146.0 1859.6,1146.2 1862.6,1146.4 1865.6,1146.6 1868.6,1146.8 1871.6,1147.0 1874.5,1147.2 1877.5,1147.4 1880.5,1147.6 1883.5,1147.8 1886.5,1148.0 1889.5,1148.2 1892.5,1148.4 1895.5,1148.6 1898.5,1148.8 1901.5,1149.0 1904.5,1149.2 1907.4,1149.4 1910.4,1149.6 1913.4,1149.8 1916.4,1150.0 1919.4,1150.2 1922.4,1150.4 1925.4,1150.6 1928.4,1150.8 1931.4,1151.0 1934.4,1151.2 1937.3,1151.3 1940.3,1151.5 1943.3,1151.7 1946.3,1151.9 1949.3,1152.1 1952.3,1152.3 1955.3,1152.5 1958.3,1152.7 1961.3,1152.9 1964.3,1153.1 1967.3,1153.3 1970.2,1153.5 1973.2,1153.7 1976.2,1153.8 1979.2,1154.0 1982.2,1154.2 1985.2,1154.4 1988.2,1154.6 1991.2,1154.8 1994.2,1155.0 1997.2,1155.2 2000.1,1155.4 2003.1,1155.5 2006.1,1155.7 2009.1,1155.9 2012.1,1156.1 2015.1,1156.3 2018.1,1156.5 2021.1,1156.7 2024.1,1156.9 2027.1,1157.0 2030.1,1157.2 2033.0,1157.4 2036.0,1157.6 2039.0,1157.8 2042.0,1158.0 2045.0,1158.2 2048.0,1158.3 2051.0,1158.5 2054.0,1158.7 2057.0,1158.9 2060.0,1159.1" stroke="#ff00ff" stroke-width="5.8" stroke-dasharray="35,15"/>
<polyline points="477.8,36.1 477.3,39.1 476.8,42.0 476.3,45.0 475.8,48.0 475.3,50.9 474.8,53.9 474.3,56.8 473.8,59.8 473.4,62.8 472.9,65.7 472.5,68.7 472.0,71.7 471.6,74.6 471.2,77.6 470.8,80.6 470.4,83.5 470.0,86.5 469.6,89.5 469.2,92.4 468.8,95.4 468.4,98.4 468.1,101.3 467.7,104.3 467.3,107.3 467.0,110.3 466.7,113.2 466.3,116.2 466.0,119.2 465.7,122.2 465.4,125.1 465.1,128.1 464.7,131.1 464.5,134.1 464.2,137.0 463.9,140.0 463.6,143.0 463.3,146.0 463.1,149.0 462.8,151.9 462.5,154.9 462.3,157.9 462.0,160.9 461.8,163.9 461.6,166.9 461.3,169.8 461.1,172.8 460.9,175.8 460.7,178.8 460.5,181.8 460.3,184.8 460.1,187.8 459.9,190.7 459.7,193.7 459.5,196.7 459.3,199.7 459.1,202.7 459.0,205.7 458.8,208.7 458.6,211.7 458.5,214.7 458.3,217.6 458.2,220.6 458.0,223.6 457.9,226.6 457.7,229.6 457.6,232.6 457.4,235.6 457.3,238.6 457.2,241.6 457.1,244.6 456.9,247.6 456.8,250.6 456.7,253.6 456.6,256.6 456.5,259.6 456.4,262.5 456.3,265.5 456.2,268.5 456.1,271.5 456.0,274.5 455.9,277.5 455.8,280.5 455.7,283.5 455.7,286.5 455.6,289.5 455.5,292.5 455.4,295.5 455.4,298.5 455.3,301.5 455.2,304.5 455.2,307.5 455.1,310.5 455.0,313.5 455.0,316.5 454.9,319.5 454.8,322.5 454.8,325.5 454.7,328.5 454.7,331.5 454.6,334.5 454.6,337.5 454.5,340.5 454.5,343.5 454.4,346.5 454.4,349.5 454.3,352.5 454.3,355.5 454.3,358.5 454.2,361.5 454.2,364.5 454.1,367.5 454.1,370.5 454.0,373.5 454.0,376.5 454.0,379.5 453.9,382.5 453.9,385.5 453.8,388.5 453.8,391.5 453.8,394.5 453.7,397.5 453.7,400.5 453.6,403.5 453.6,406.5 453.6,409.5 453.5,412.5 453.5,415.5 453.4,418.5 453.4,421.5 453.3,424.5 453.3,427.5 453.3,430.5 453.2,433.5 453.2,436.5 453.1,439.5 453.1,442.5 453.0,445.5 453.0,448.5 452.9,451.5 452.8,454.5 452.8,457.5 452.7,460.5 452.7,463.5 452.6,466.5 452.6,469.5 452.5,472.5 452.4,475.5 452.3,478.5 452.3,481.5 452.2,484.5 452.1,487.5 452.1,490.5 452.0,493.5 451.9,496.5 451.8,499.5 451.7,502.5 451.6,505.5 451.5,508.5 451.4,511.5 451.3,514.5 451.2,517.5 451.1,520.5 451.0,523.4 450.9,526.4 450.8,529.4 450.7,532.4 450.6,535.4 450.5,538.4 450.3,541.4 450.2,544.4 450.1,547.4 449.9,550.4 449.8,553.4 449.7,556.4 449.5,559.4 449.4,562.4 449.2,565.4 449.1,568.3 448.9,571.3 448.8,574.3 448.6,577.3 448.4,580.3 448.3,583.3 448.1,586.3 447.9,589.3 447.8,592.3 447.6,595.3 447.4,598.3 447.2,601.3 447.0,604.3 446.8,607.3 446.6,610.2 446.4,613.2 446.2,616.2 446.0,619.2 445.8,622.2 445.6,625.2 445.4,628.2 445.1,631.2 444.9,634.2 444.7,637.2 444.5,640.2 444.2,643.2 444.0,646.2 443.8,649.2 443.5,652.2 443.3,655.2 443.0,658.2 442.8,661.2 442.6,664.2 442.3,667.2 442.1,670.2 441.8,673.2 441.6,676.2 441.3,679.2 441.1,682.1 440.9,685.1 440.6,688.1 440.4,691.1 440.2,694.1 440.0,697.1 439.7,700.1 439.5,703.1 439.3,706.1 439.1,709.1 438.9,712.1 438.7,715.1 438.5,718.1 438.3,721.1 438.1,724.1 437.9,727.1 437.7,730.1 437.6,733.1 437.4,736.1 437.2,739.1 437.1,742.1 436.9,745.2 436.8,748.2 436.7,751.2 436.5,754.2 436.4,757.2 436.3,760.2 436.2,763.2 436.1,766.2 436.1,769.2 436.0,772.2 435.9,775.2 435.9,778.2 435.9,781.2 435.8,784.2 435.8,787.2 435.8,790.2 435.8,793.2 435.8,796.2 435.9,799.2 435.9,802.2 436.0,805.2 436.0,808.2 436.1,811.2 436.2,814.2 436.3,817.2 436.5,820.2 436.6,823.2 436.8,826.2 437.0,829.2 437.3,832.2 437.6,835.2 437.9,838.2 438.3,841.1 438.7,844.1 439.2,847.0 439.7,850.0 440.3,852.9 441.0,855.8 441.7,858.7 442.4,861.6 443.2,864.5 444.0,867.4 444.9,870.2 445.9,873.0 446.9,875.8 448.0,878.6 449.1,881.4 450.2,884.1 451.4,886.8 452.7,889.5 454.0,892.2 455.3,894.8 456.7,897.5 458.2,900.0 459.7,902.6 461.2,905.1 462.8,907.6 464.4,910.1 466.1,912.5 467.8,914.9 469.6,917.2 471.4,919.6 473.2,921.8 475.1,924.1 477.1,926.3 479.0,928.4 481.1,930.6 483.1,932.6 485.2,934.7 487.4,936.6 489.6,938.6 491.8,940.5 494.0,942.4 496.3,944.2 498.7,946.0 501.0,947.7 503.4,949.4 505.8,951.1 508.3,952.7 510.8,954.4 513.3,955.9 515.8,957.5 518.4,959.0 521.0,960.5 523.6,962.0 526.2,963.4 528.8,964.8 531.5,966.2 534.2,967.6 536.9,969.0 539.6,970.3 542.3,971.6 545.1,972.9 547.8,974.2 550.6,975.4 553.4,976.7 556.1,977.9 558.9,979.1 561.7,980.3 564.5,981.5 567.3,982.7 570.1,983.9 572.9,985.1 575.7,986.2 578.5,987.4 581.4,988.5 584.2,989.7 587.0,990.8 589.8,991.9 592.6,993.1 595.4,994.2 598.2,995.3 601.1,996.4 603.9,997.5 606.7,998.5 609.6,999.6 612.4,1000.7 615.2,1001.7 618.0,1002.8 620.9,1003.8 623.7,1004.9 626.6,1005.9 629.4,1006.9 632.2,1007.9 635.1,1008.9 637.9,1009.9 640.8,1010.9 643.6,1011.9 646.5,1012.9 649.3,1013.9 652.2,1014.8 655.0,1015.8 657.9,1016.8 660.7,1017.7 663.6,1018.6 666.4,1019.6 669.3,1020.5 672.2,1021.4 675.0,1022.3 677.9,1023.2 680.8,1024.1 683.6,1025.0 686.5,1025.9 689.4,1026.8 692.3,1027.7 695.1,1028.6 698.0,1029.4 700.9,1030.3 703.8,1031.1 706.6,1032.0 709.5,1032.8 712.4,1033.6 715.3,1034.5 718.2,1035.3 721.1,1036.1 723.9,1036.9 726.8,1037.7 729.7,1038.5 732.6,1039.3 735.5,1040.1 738.4,1040.9 741.3,1041.7 744.2,1042.4 747.1,1043.2 750.0,1044.0 752.9,1044.7 755.8,1045.5 758.7,1046.2 761.6,1046.9 764.5,1047.7 767.4,1048.4 770.3,1049.1 773.2,1049.8 776.1,1050.6 779.0,1051.3 782.0,1052.0 784.9,1052.7 787.8,1053.4 790.7,1054.1 793.6,1054.7 796.5,1055.4 799.4,1056.1 802.4,1056.8 805.3,1057.4 808.2,1058.1 811.1,1058.7 814.0,1059.4 817.0,1060.0 819.9,1060.7 822.8,1061.3 825.8,1061.9 828.7,1062.6 831.6,1063.2 834.5,1063.8 837.5,1064.4 840.4,1065.0 843.3,1065.6 846.3,1066.2 849.2,1066.8 852.1,1067.4 855.1,1068.0 858.0,1068.6 860.9,1069.2 863.9,1069.8 866.8,1070.4 869.8,1070.9 872.7,1071.5 875.6,1072.1 878.6,1072.6 881.5,1073.2 884.5,1073.7 887.4,1074.3 890.4,1074.8 893.3,1075.4 896.3,1075.9 899.2,1076.4 902.2,1077.0 905.1,1077.5 908.1,1078.0 911.0,1078.5 914.0,1079.1 916.9,1079.6 919.9,1080.1 922.8,1080.6 925.8,1081.1 928.7,1081.6 931.7,1082.1 934.6,1082.6 937.6,1083.1 940.5,1083.6 943.5,1084.1 946.5,1084.6 949.4,1085.0 952.4,1085.5 955.3,1086.0 958.3,1086.5 961.3,1087.0 964.2,1087.4 967.2,1087.9 970.1,1088.4 973.1,1088.8 976.1,1089.3 979.0,1089.7 982.0,1090.2 985.0,1090.6 987.9,1091.1 990.9,1091.5 993.9,1092.0 996.8,1092.4 999.8,1092.9 1002.8,1093.3 1005.7,1093.8 1008.7,1094.2 1011.7,1094.6 1014.6,1095.1 1017.6,1095.5 1020.6,1095.9 1023.5,1096.4 1026.5,1096.8 1029.5,1097.2 1032.4,1097.6 1035.4,1098.0 1038.4,1098.5 1041.3,1098.9 1044.3,1099.3 1047.3,1099.7 1050.3,1100.1 1053.2,1100.5 1056.2,1101.0 1059.2,1101.4 1062.1,1101.8 1065.1,1102.2 1068.1,1102.6 1071.1,1103.0 1074.0,1103.4 1077.0,1103.8 1080.0,1104.2 1082.9,1104.6 1085.9,1105.0 1088.9,1105.4 1091.9,1105.8 1094.8,1106.2 1097.8,1106.6 1100.8,1107.0 1103.8,1107.4 1106.7,1107.8 1109.7,1108.1 1112.7,1108.5 1115.7,1108.9 1118.6,1109.3 1121.6,1109.7 1124.6,1110.1 1127.6,1110.5 1130.5,1110.8 1133.5,1111.2 1136.5,1111.6 1139.5,1112.0 1142.4,1112.4 1145.4,1112.7 1148.4,1113.1 1151.4,1113.5 1154.3,1113.9 1157.3,1114.2 1160.3,1114.6 1163.3,1115.0 1166.2,1115.3 1169.2,1115.7 1172.2,1116.1 1175.2,1116.4 1178.1,1116.8 1181.1,1117.2 1184.1,1117.5 1187.1,1117.9 1190.1,1118.3 1193.0,1118.6 1196.0,1119.0 1199.0,1119.3 1202.0,1119.7 1204.9,1120.0 1207.9,1120.4 1210.9,1120.7 1213.9,1121.1 1216.9,1121.5 1219.8,1121.8 1222.8,1122.1 1225.8,1122.5 1228.8,1122.8 1231.8,1123.2 1234.7,1123.5 1237.7,1123.9 1240.7,1124.2 1243.7,1124.6 1246.7,1124.9 1249.6,1125.2 1252.6,1125.6 1255.6,1125.9 1258.6,1126.3 1261.6,1126.6 1264.5,1126.9 1267.5,1127.3 1270.5,1127.6 1273.5,1127.9 1276.5,1128.3 1279.4,1128.6 1282.4,1128.9 1285.4,1129.2 1288.4,1129.6 1291.4,1129.9 1294.4,1130.2 1297.3,1130.5 1300.3,1130.9 1303.3,1131.2 1306.3,1131.5 1309.3,1131.8 1312.2,1132.1 1315.2,1132.5 1318.2,1132.8 1321.2,1133.1 1324.2,1133.4 1327.2,1133.7 1330.1,1134.0 1333.1,1134.3 1336.1,1134.7 1339.1,1135.0 1342.1,1135.3 1345.1,1135.6 1348.0,1135.9 1351.0,1136.2 1354.0,1136.5 1357.0,1136.8 1360.0,1137.1 1363.0,1137.4 1366.0,1137.7 1368.9,1138.0 1371.9,1138.3 1374.9,1138.6 1377.9,1138.9 1380.9,1139.2 1383.9,1139.5 1386.8,1139.8 1389.8,1140.1 1392.8,1140.4 1395.8,1140.7 1398.8,1141.0 1401.8,1141.3 1404.8,1141.5 1407.7,1141.8 1410.7,1142.1 1413.7,1142.4 1416.7,1142.7 1419.7,1143.0 1422.7,1143.3 1425.7,1143.5 1428.6,1143.8 1431.6,1144.1 1434.6,1144.4 1437.6,1144.7 1440.6,1145.0 1443.6,1145.2 1446.6,1145.5 1449.6,1145.8 1452.5,1146.1 1455.5,1146.3 1458.5,1146.6 1461.5,1146.9 1464.5,1147.2 1467.5,1147.4 1470.5,1147.7 1473.5,1148.0 1476.4,1148.2 1479.4,1148.5 1482.4,1148.8 1485.4,1149.0 1488.4,1149.3 1491.4,1149.6 1494.4,1149.8 1497.4,1150.1 1500.3,1150.4 1503.3,1150.6 1506.3,1150.9 1509.3,1151.1 1512.3,1151.4 1515.3,1151.7 1518.3,1151.9 1521.3,1152.2 1524.3,1152.4 1527.2,1152.7 1530.2,1152.9 1533.2,1153.2 1536.2,1153.4 1539.2,1153.7 1542.2,1153.9 1545.2,1154.2 1548.2,1154.4 1551.2,1154.7 1554.2,1154.9 1557.1,1155.2 1560.1,1155.4 1563.1,1155.7 1566.1,1155.9 1569.1,1156.2 1572.1,1156.4 1575.1,1156.6 1578.1,1156.9 1581.1,1157.1 1584.1,1157.4 1587.0,1157.6 1590.0,1157.8 1593.0,1158.1 1596.0,1158.3 1599.0,1158.6 1602.0,1158.8 1605.0,1159.0 1608.0,1159.3 1611.0,1159.5 1614.0,1159.7 1617.0,1160.0 1619.9,1160.2 1622.9,1160.4 1625.9,1160.7 1628.9,1160.9 1631.9,1161.1 1634.9,1161.3 1637.9,1161.6 1640.9,1161.8 1643.9,1162.0 1646.9,1162.2 1649.9,1162.5 1652.8,1162.7 1655.8,1162.9 1658.8,1163.1 1661.8,1163.4 1664.8,1163.6 1667.8,1163.8 1670.8,1164.0 1673.8,1164.2 1676.8,1164.5 1679.8,1164.7 1682.8,1164.9 1685.8,1165.1 1688.8,1165.3 1691.7,1165.5 1694.7,1165.7 1697.7,1166.0 1700.7,1166.2 1703.7,1166.4 1706.7,1166.6 1709.7,1166.8 1712.7,1167.0 1715.7,1167.2 1718.7,1167.4 1721.7,1167.6 1724.7,1167.8 1727.7,1168.1 1730.6,1168.3 1733.6,1168.5 1736.6,1168.7 1739.6,1168.9 1742.6,1169.1 1745.6,1169.3 1748.6,1169.5 1751.6,1169.7 1754.6,1169.9 1757.6,1170.1 1760.6,1170.3 1763.6,1170.5 1766.6,1170.7 1769.6,1170.9 1772.6,1171.1 1775.5,1171.3 1778.5,1171.5 1781.5,1171.7 1784.5,1171.9 1787.5,1172.1 1790.5,1172.3 1793.5,1172.4 1796.5,1172.6 1799.5,1172.8 1802.5,1173.0 1805.5,1173.2 1808.5,1173.4 1811.5,1173.6 1814.5,1173.8 1817.5,1174.0 1820.4,1174.2 1823.4,1174.3 1826.4,1174.5 1829.4,1174.7 1832.4,1174.9 1835.4,1175.1 1838.4,1175.3 1841.4,1175.5 1844.4,1175.6 1847.4,1175.8 1850.4,1176.0 1853.4,1176.2 1856.4,1176.4 1859.4,1176.6 1862.4,1176.7 1865.4,1176.9 1868.4,1177.1 1871.3,1177.3 1874.3,1177.4 1877.3,1177.6 1880.3,1177.8 1883.3,1178.0 1886.3,1178.2 1889.3,1178.3 1892.3,1178.5 1895.3,1178.7 1898.3,1178.9 1901.3,1179.0 1904.3,1179.2 1907.3,1179.4 1910.3,1179.5 1913.3,1179.7 1916.3,1179.9 1919.3,1180.1 1922.2,1180.2 1925.2,1180.4 1928.2,1180.6 1931.2,1180.7 1934.2,1180.9 1937.2,1181.1 1940.2,1181.2 1943.2,1181.4 1946.2,1181.6 1949.2,1181.7 1952.2,1181.9 1955.2,1182.1 1958.2,1182.2 1961.2,1182.4 1964.2,1182.6 1967.2,1182.7 1970.2,1182.9 1973.1,1183.0 1976.1,1183.2 1979.1,1183.4 1982.1,1183.5 1985.1,1183.7 1988.1,1183.8 1991.1,1184.0 1994.1,1184.2 1997.1,1184.3 2000.1,1184.5 2003.1,1184.6 2006.1,1184.8 2009.1,1185.0 2012.1,1185.1 2015.1,1185.3 2018.1,1185.4 2021.1,1185.6 2024.0,1185.7 2027.0,1185.9 2030.0,1186.0 2033.0,1186.2 2036.0,1186.4 2039.0,1186.5 2042.0,1186.7 2045.0,1186.8 2048.0,1187.0 2051.0,1187.1 2054.0,1187.3 2057.0,1187.4 2060.0,1187.6" stroke="#008b00" stroke-width="5.8" stroke-dasharray="5,15,25,15,5,15"/>
<polyline points="514.0,35.9 513.3,38.9 512.5,41.9 511.8,44.9 511.1,47.8 510.4,50.8 509.8,53.8 509.1,56.8 508.5,59.7 507.8,62.7 507.2,65.7 506.6,68.7 506.0,71.7 505.4,74.6 504.9,77.6 504.3,80.6 503.8,83.6 503.3,86.6 502.8,89.5 502.3,92.5 501.8,95.5 501.3,98.5 500.9,101.5 500.4,104.4 500.0,107.4 499.6,110.4 499.2,113.4 498.8,116.4 498.4,119.3 498.1,122.3 497.7,125.3 497.4,128.3 497.0,131.3 496.7,134.3 496.4,137.2 496.1,140.2 495.8,143.2 495.6,146.2 495.3,149.2 495.1,152.1 494.8,155.1 494.6,158.1 494.4,161.1 494.2,164.1 494.0,167.0 493.8,170.0 493.6,173.0 493.5,176.0 493.3,179.0 493.2,182.0 493.1,184.9 492.9,187.9 492.8,190.9 492.7,193.9 492.6,196.9 492.5,199.9 492.5,202.8 492.4,205.8 492.4,208.8 492.3,211.8 492.3,214.8 492.3,217.8 492.2,220.7 492.2,223.7 492.2,226.7 492.2,229.7 492.3,232.7 492.3,235.7 492.3,238.6 492.4,241.6 492.4,244.6 492.5,247.6 492.5,250.6 492.6,253.6 492.7,256.5 492.8,259.5 492.9,262.5 493.0,265.5 493.1,268.5 493.2,271.5 493.3,274.5 493.5,277.4 493.6,280.4 493.7,283.4 493.9,286.4 494.1,289.4 494.2,292.4 494.4,295.3 494.6,298.3 494.8,301.3 494.9,304.3 495.1,307.3 495.3,310.3 495.5,313.3 495.7,316.2 496.0,319.2 496.2,322.2 496.4,325.2 496.6,328.2 496.9,331.2 497.1,334.2 497.4,337.1 497.6,340.1 497.9,343.1 498.1,346.1 498.4,349.1 498.7,352.1 498.9,355.1 499.2,358.0 499.5,361.0 499.8,364.0 500.1,367.0 500.4,370.0 500.7,373.0 501.0,376.0 501.3,378.9 501.6,381.9 501.9,384.9 502.2,387.9 502.5,390.9 502.8,393.9 503.1,396.9 503.5,399.8 503.8,402.8 504.1,405.8 504.4,408.8 504.8,411.8 505.1,414.8 505.4,417.8 505.8,420.7 506.1,423.7 506.5,426.7 506.8,429.7 507.1,432.7 507.5,435.7 507.8,438.7 508.2,441.6 508.5,444.6 508.9,447.6 509.2,450.6 509.6,453.6 509.9,456.6 510.3,459.6 510.6,462.6 511.0,465.5 511.3,468.5 511.7,471.5 512.0,474.5 512.4,477.5 512.7,480.5 513.1,483.5 513.4,486.4 513.8,489.4 514.1,492.4 514.5,495.4 514.8,498.4 515.2,501.4 515.5,504.4 515.8,507.3 516.2,510.3 516.5,513.3 516.9,516.3 517.2,519.3 517.5,522.3 517.9,525.3 518.2,528.2 518.5,531.2 518.9,534.2 519.2,537.2 519.5,540.2 519.8,543.2 520.1,546.2 520.4,549.1 520.8,552.1 521.1,555.1 521.4,558.1 521.7,561.1 522.0,564.1 522.3,567.1 522.6,570.0 522.8,573.0 523.1,576.0 523.4,579.0 523.7,582.0 524.0,585.0 524.2,588.0 524.5,590.9 524.8,593.9 525.0,596.9 525.3,599.9 525.5,602.9 525.8,605.9 526.0,608.9 526.2,611.8 526.4,614.8 526.7,617.8 526.9,620.8 527.1,623.8 527.3,626.8 527.5,629.8 527.7,632.7 527.9,635.7 528.1,638.7 528.2,641.7 528.4,644.7 528.6,647.7 528.7,650.6 528.9,653.6 529.0,656.6 529.2,659.6 529.3,662.6 529.4,665.6 529.5,668.6 529.7,671.5 529.8,674.5 529.9,677.5 529.9,680.5 530.0,683.5 530.1,686.5 530.2,689.4 530.2,692.4 530.3,695.4 530.3,698.4 530.4,701.4 530.4,704.4 530.4,707.3 530.4,710.3 530.4,713.3 530.4,716.3 530.4,719.3 530.4,722.3 530.3,725.2 530.3,728.2 530.2,731.2 530.2,734.2 530.1,737.2 530.0,740.2 529.9,743.1 529.8,746.1 529.7,749.1 529.6,752.1 529.5,755.1 529.3,758.0 529.2,761.0 529.0,764.0 528.9,767.0 528.7,770.0 528.5,773.0 528.3,775.9 528.1,778.9 527.9,781.9 527.7,784.9 527.5,787.9 527.3,790.9 527.1,793.8 526.9,796.8 526.6,799.8 526.4,802.8 526.2,805.8 525.9,808.8 525.7,811.7 525.4,814.7 525.2,817.7 524.9,820.7 524.7,823.7 524.4,826.7 524.2,829.7 523.9,832.7 523.7,835.6 523.4,838.6 523.1,841.6 522.9,844.6 522.6,847.6 522.4,850.6 522.1,853.6 521.9,856.6 521.6,859.6 521.4,862.6 521.1,865.6 520.9,868.6 520.7,871.6 520.4,874.6 520.2,877.6 520.0,880.6 519.8,883.6 519.5,886.6 519.3,889.6 519.1,892.6 518.9,895.6 518.7,898.6 518.6,901.6 518.4,904.6 518.2,907.6 518.1,910.6 517.9,913.6 517.8,916.6 517.6,919.7 517.5,922.7 517.4,925.7 517.3,928.7 517.2,931.7 517.1,934.7 517.0,937.8 517.0,940.8 516.9,943.8 516.9,946.8 516.9,949.8 517.0,952.8 517.0,955.8 517.1,958.8 517.3,961.8 517.5,964.8 517.7,967.7 518.0,970.7 518.3,973.6 518.7,976.5 519.1,979.5 519.6,982.3 520.2,985.2 520.8,988.1 521.5,990.9 522.3,993.7 523.1,996.5 524.1,999.3 525.1,1002.0 526.2,1004.8 527.4,1007.5 528.6,1010.1 530.0,1012.8 531.4,1015.4 532.9,1018.0 534.4,1020.5 536.1,1023.0 537.7,1025.5 539.5,1028.0 541.3,1030.4 543.1,1032.8 545.0,1035.2 546.9,1037.5 548.8,1039.8 550.8,1042.1 552.8,1044.3 554.8,1046.5 556.9,1048.6 559.0,1050.8 561.1,1052.9 563.2,1054.9 565.3,1056.9 567.5,1058.9 569.7,1060.9 572.0,1062.8 574.2,1064.7 576.5,1066.6 578.8,1068.4 581.1,1070.2 583.4,1072.0 585.8,1073.7 588.2,1075.5 590.6,1077.1 593.0,1078.8 595.5,1080.4 597.9,1082.0 600.4,1083.6 602.9,1085.2 605.4,1086.7 608.0,1088.2 610.5,1089.7 613.1,1091.2 615.7,1092.6 618.3,1094.0 620.9,1095.4 623.6,1096.7 626.2,1098.1 628.9,1099.4 631.6,1100.7 634.3,1101.9 637.0,1103.2 639.7,1104.4 642.5,1105.6 645.2,1106.8 648.0,1108.0 650.8,1109.1 653.5,1110.3 656.3,1111.4 659.1,1112.5 662.0,1113.6 664.8,1114.6 667.6,1115.7 670.5,1116.7 673.3,1117.7 676.2,1118.7 679.1,1119.7 682.0,1120.7 684.8,1121.6 687.7,1122.6 690.6,1123.5 693.5,1124.4 696.5,1125.3 699.4,1126.2 702.3,1127.1 705.2,1128.0 708.1,1128.8 711.1,1129.7 714.0,1130.5 717.0,1131.3 719.9,1132.1 722.9,1133.0 725.8,1133.8 728.8,1134.5 731.7,1135.3 734.7,1136.1 737.6,1136.9 740.6,1137.6 743.5,1138.4 746.5,1139.1 749.4,1139.9 752.4,1140.6 755.3,1141.4 758.3,1142.1 761.2,1142.8 764.1,1143.5 767.1,1144.2 770.0,1144.9 773.0,1145.6 775.9,1146.3 778.9,1147.0 781.8,1147.7 784.8,1148.4 787.7,1149.0 790.7,1149.7 793.6,1150.4 796.6,1151.0 799.5,1151.7 802.4,1152.3 805.4,1153.0 808.3,1153.6 811.3,1154.2 814.2,1154.8 817.2,1155.5 820.1,1156.1 823.1,1156.7 826.0,1157.3 828.9,1157.9 831.9,1158.5 834.8,1159.1 837.8,1159.7 840.7,1160.2 843.7,1160.8 846.6,1161.4 849.5,1162.0 852.5,1162.5 855.4,1163.1 858.4,1163.6 861.3,1164.2 864.3,1164.7 867.2,1165.3 870.1,1165.8 873.1,1166.4 876.0,1166.9 879.0,1167.4 881.9,1167.9 884.9,1168.5 887.8,1169.0 890.7,1169.5 893.7,1170.0 896.6,1170.5 899.6,1171.0 902.5,1171.5 905.5,1172.0 908.4,1172.5 911.3,1173.0 914.3,1173.5 917.2,1174.0 920.2,1174.4 923.1,1174.9 926.1,1175.4 929.0,1175.9 932.0,1176.3 934.9,1176.8 937.8,1177.2 940.8,1177.7 943.7,1178.2 946.7,1178.6 949.6,1179.1 952.6,1179.5 955.5,1180.0 958.5,1180.4 961.4,1180.8 964.4,1181.3 967.3,1181.7 970.3,1182.1 973.2,1182.6 976.2,1183.0 979.1,1183.4 982.1,1183.9 985.0,1184.3 988.0,1184.7 990.9,1185.1 993.9,1185.5 996.8,1186.0 999.8,1186.4 1002.7,1186.8 1005.7,1187.2 1008.6,1187.6 1011.6,1188.0 1014.5,1188.4 1017.5,1188.8 1020.4,1189.2 1023.4,1189.6 1026.3,1190.0 1029.3,1190.4 1032.3,1190.8 1035.2,1191.2 1038.2,1191.6 1041.1,1192.0 1044.1,1192.4 1047.0,1192.8 1050.0,1193.1 1053.0,1193.5 1055.9,1193.9 1058.9,1194.3 1061.8,1194.7 1064.8,1195.0 1067.8,1195.4 1070.7,1195.8 1073.7,1196.2 1076.7,1196.5 1079.6,1196.9 1082.6,1197.3 1085.5,1197.6 1088.5,1198.0 1091.5,1198.4 1094.4,1198.7 1097.4,1199.1 1100.4,1199.5 1103.3,1199.8 1106.3,1200.2 1109.3,1200.5 1112.2,1200.9 1115.2,1201.2 1118.2,1201.6 1121.1,1201.9 1124.1,1202.3 1127.1,1202.6 1130.1,1203.0 1133.0,1203.3 1136.0,1203.7 1139.0,1204.0 1141.9,1204.3 1144.9,1204.7 1147.9,1205.0 1150.9,1205.3 1153.8,1205.7 1156.8,1206.0 1159.8,1206.3 1162.7,1206.7 1165.7,1207.0 1168.7,1207.3 1171.7,1207.6 1174.6,1208.0 1177.6,1208.3 1180.6,1208.6 1183.6,1208.9 1186.5,1209.3 1189.5,1209.6 1192.5,1209.9 1195.5,1210.2 1198.4,1210.5 1201.4,1210.8 1204.4,1211.1 1207.4,1211.4 1210.4,1211.8 1213.3,1212.1 1216.3,1212.4 1219.3,1212.7 1222.3,1213.0 1225.3,1213.3 1228.2,1213.6 1231.2,1213.9 1234.2,1214.2 1237.2,1214.5 1240.2,1214.8 1243.1,1215.1 1246.1,1215.4 1249.1,1215.6 1252.1,1215.9 1255.1,1216.2 1258.0,1216.5 1261.0,1216.8 1264.0,1217.1 1267.0,1217.4 1270.0,1217.7 1273.0,1217.9 1275.9,1218.2 1278.9,1218.5 1281.9,1218.8 1284.9,1219.1 1287.9,1219.3 1290.9,1219.6 1293.9,1219.9 1296.8,1220.2 1299.8,1220.4 1302.8,1220.7 1305.8,1221.0 1308.8,1221.2 1311.8,1221.5 1314.8,1221.8 1317.8,1222.0 1320.7,1222.3 1323.7,1222.6 1326.7,1222.8 1329.7,1223.1 1332.7,1223.4 1335.7,1223.6 1338.7,1223.9 1341.7,1224.1 1344.6,1224.4 1347.6,1224.6 1350.6,1224.9 1353.6,1225.1 1356.6,1225.4 1359.6,1225.6 1362.6,1225.9 1365.6,1226.1 1368.6,1226.4 1371.6,1226.6 1374.6,1226.9 1377.5,1227.1 1380.5,1227.4 1383.5,1227.6 1386.5,1227.9 1389.5,1228.1 1392.5,1228.3 1395.5,1228.6 1398.5,1228.8 1401.5,1229.0 1404.5,1229.3 1407.5,1229.5 1410.5,1229.8 1413.5,1230.0 1416.4,1230.2 1419.4,1230.5 1422.4,1230.7 1425.4,1230.9 1428.4,1231.1 1431.4,1231.4 1434.4,1231.6 1437.4,1231.8 1440.4,1232.0 1443.4,1232.3 1446.4,1232.5 1449.4,1232.7 1452.4,1232.9 1455.4,1233.2 1458.4,1233.4 1461.4,1233.6 1464.4,1233.8 1467.3,1234.0 1470.3,1234.3 1473.3,1234.5 1476.3,1234.7 1479.3,1234.9 1482.3,1235.1 1485.3,1235.3 1488.3,1235.5 1491.3,1235.7 1494.3,1236.0 1497.3,1236.2 1500.3,1236.4 1503.3,1236.6 1506.3,1236.8 1509.3,1237.0 1512.3,1237.2 1515.3,1237.4 1518.3,1237.6 1521.3,1237.8 1524.3,1238.0 1527.3,1238.2 1530.3,1238.4 1533.3,1238.6 1536.3,1238.8 1539.3,1239.0 1542.3,1239.2 1545.3,1239.4 1548.3,1239.6 1551.3,1239.8 1554.3,1240.0 1557.3,1240.2 1560.3,1240.4 1563.2,1240.6 1566.2,1240.8 1569.2,1241.0 1572.2,1241.2 1575.2,1241.4 1578.2,1241.6 1581.2,1241.7 1584.2,1241.9 1587.2,1242.1 1590.2,1242.3 1593.2,1242.5 1596.2,1242.7 1599.2,1242.9 1602.2,1243.1 1605.2,1243.2 1608.2,1243.4 1611.2,1243.6 1614.2,1243.8 1617.2,1244.0 1620.2,1244.2 1623.2,1244.3 1626.2,1244.5 1629.2,1244.7 1632.2,1244.9 1635.2,1245.1 1638.2,1245.2 1641.2,1245.4 1644.2,1245.6 1647.2,1245.8 1650.2,1246.0 1653.2,1246.1 1656.2,1246.3 1659.2,1246.5 1662.2,1246.7 1665.2,1246.8 1668.2,1247.0 1671.2,1247.2 1674.2,1247.4 1677.2,1247.5 1680.2,1247.7 1683.2,1247.9 1686.2,1248.0 1689.2,1248.2 1692.2,1248.4 1695.2,1248.6 1698.2,1248.7 1701.1,1248.9 1704.1,1249.1 1707.1,1249.2 1710.1,1249.4 1713.1,1249.6 1716.1,1249.7 1719.1,1249.9 1722.1,1250.1 1725.1,1250.2 1728.1,1250.4 1731.1,1250.6 1734.1,1250.7 1737.1,1250.9 1740.1,1251.1 1743.1,1251.2 1746.1,1251.4 1749.1,1251.6 1752.1,1251.7 1755.1,1251.9 1758.1,1252.0 1761.1,1252.2 1764.1,1252.4 1767.1,1252.5 1770.1,1252.7 1773.1,1252.9 1776.1,1253.0 1779.0,1253.2 1782.0,1253.3 1785.0,1253.5 1788.0,1253.7 1791.0,1253.8 1794.0,1254.0 1797.0,1254.1 1800.0,1254.3 1803.0,1254.5 1806.0,1254.6 1809.0,1254.8 1812.0,1254.9 1815.0,1255.1 1818.0,1255.2 1821.0,1255.4 1824.0,1255.6 1826.9,1255.7 1829.9,1255.9 1832.9,1256.0 1835.9,1256.2 1838.9,1256.3 1841.9,1256.5 1844.9,1256.7 1847.9,1256.8 1850.9,1257.0 1853.9,1257.1 1856.9,1257.3 1859.9,1257.4 1862.8,1257.6 1865.8,1257.7 1868.8,1257.9 1871.8,1258.1 1874.8,1258.2 1877.8,1258.4 1880.8,1258.5 1883.8,1258.7 1886.8,1258.8 1889.8,1259.0 1892.7,1259.1 1895.7,1259.3 1898.7,1259.5 1901.7,1259.6 1904.7,1259.8 1907.7,1259.9 1910.7,1260.1 1913.7,1260.2 1916.6,1260.4 1919.6,1260.5 1922.6,1260.7 1925.6,1260.8 1928.6,1261.0 1931.6,1261.1 1934.6,1261.3 1937.5,1261.5 1940.5,1261.6 1943.5,1261.8 1946.5,1261.9 1949.5,1262.1 1952.5,1262.2 1955.5,1262.4 1958.4,1262.5 1961.4,1262.7 1964.4,1262.8 1967.4,1263.0 1970.4,1263.2 1973.4,1263.3 1976.3,1263.5 1979.3,1263.6 1982.3,1263.8 1985.3,1263.9 1988.3,1264.1 1991.2,1264.2 1994.2,1264.4 1997.2,1264.6 2000.2,1264.7 2003.2,1264.9 2006.1,1265.0 2009.1,1265.2 2012.1,1265.3 2015.1,1265.5 2018.1,1265.6 2021.0,1265.8 2024.0,1266.0 2027.0,1266.1 2030.0,1266.3 2032.9,1266.4 2035.9,1266.6 2038.9,1266.8 2041.9,1266.9 2044.9,1267.1 2047.8,1267.2 2050.8,1267.4 2053.8,1267.5 2056.8,1267.7 2059.7,1267.9" stroke="#40e0d0" stroke-width="5.8"/>
<polyline points="417.0,277.2 417.0,302.4 417.4,329.2 418.0,358.3 418.7,385.4 421.4,402.4 420.8,431.3 420.8,458.5 420.2,481.7 426.7,505.0 426.5,527.6 425.0,547.0 425.0,586.0 424.9,616.0 431.5,634.5 431.5,641.7 431.5,649.3 431.5,656.0 430.0,672.0 432.0,690.0 434.0,704.0 437.0,721.0 440.0,733.0 442.0,740.0 445.0,753.0 452.0,775.0 458.0,790.0 464.3,803.2 479.0,817.2 493.0,822.0 508.5,826.3 530.0,827.4 546.5,828.5 567.0,830.4 581.0,840.7 604.5,843.6 625.7,847.0 654.7,850.6 678.0,856.3 698.6,860.3 728.1,866.3 746.5,872.0 759.0,872.6 771.3,876.9 786.8,880.4 806.4,882.5 823.2,884.0 855.9,884.7 874.6,886.8 896.9,886.8 918.9,886.8 936.1,889.0 951.0,889.0 969.8,890.5 987.5,893.6 1006.2,895.7 1036.0,897.9 1053.3,897.9 1072.8,897.9 1102.5,897.9 1125.5,902.8 1146.4,903.5 1163.0,904.2 1182.8,907.8 1197.6,917.7 1204.7,920.5 1217.9,925.5 1226.6,931.1 1248.7,937.5 1263.3,940.5 1285.0,943.6 1299.7,950.0 1317.4,954.2 1336.5,956.4 1354.6,958.5 1373.0,960.3 1391.4,962.4 1410.2,964.1 1432.0,963.4 1453.4,966.3 1476.0,970.2 1492.6,973.3 1507.2,975.5 1527.3,976.5 1544.2,979.5 1562.5,980.2 1578.8,984.4 1600.3,986.5 1622.7,990.5 1636.8,992.2 1649.3,993.6 1666.5,993.6 1696.3,996.5 1714.7,997.2 1723.4,997.2 1741.8,997.6 1755.0,997.6 1784.0,997.6 1799.6,997.6 1813.6,997.4 1828.4,1000.4 1853.0,1003.0 1864.8,1003.0 1880.0,1007.0 1894.2,1010.4 1908.8,1017.0 1915.9,1020.2 1938.0,1029.5 1945.3,1036.0 1952.2,1052.7 1960.2,1062.0 1974.0,1079.5" stroke="#000" stroke-width="2.6" stroke-dasharray="2.6,7.4"/>
<use href="#tri" x="417.0" y="277.2"/>
<use href="#tri" x="417.0" y="302.4"/>
<use href="#tri" x="417.4" y="329.2"/>
<use href="#tri" x="418.0" y="358.3"/>
<use href="#tri" x="418.7" y="385.4"/>
<use href="#tri" x="421.4" y="402.4"/>
<use href="#tri" x="420.8" y="431.3"/>
<use href="#tri" x="420.8" y="458.5"/>
<use href="#tri" x="420.2" y="481.7"/>
<use href="#tri" x="426.7" y="505.0"/>
<use href="#tri" x="426.5" y="527.6"/>
<use href="#tri" x="425.0" y="547.0"/>
<use href="#tri" x="425.0" y="586.0"/>
<use href="#tri" x="424.9" y="616.0"/>
<use href="#tri" x="431.5" y="634.5"/>
<use href="#tri" x="431.5" y="641.7"/>
<use href="#tri" x="431.5" y="649.3"/>
<use href="#tri" x="431.5" y="656.0"/>
<use href="#tri" x="430.0" y="672.0"/>
<use href="#tri" x="432.0" y="690.0"/>
<use href="#tri" x="434.0" y="704.0"/>
<use href="#tri" x="437.0" y="721.0"/>
<use href="#tri" x="440.0" y="733.0"/>
<use href="#tri" x="442.0" y="740.0"/>
<use href="#tri" x="445.0" y="753.0"/>
<use href="#tri" x="452.0" y="775.0"/>
<use href="#tri" x="458.0" y="790.0"/>
<use href="#tri" x="464.3" y="803.2"/>
<use href="#tri" x="479.0" y="817.2"/>
<use href="#tri" x="493.0" y="822.0"/>
<use href="#tri" x="508.5" y="826.3"/>
<use href="#tri" x="530.0" y="827.4"/>
<use href="#tri" x="546.5" y="828.5"/>
<use href="#tri" x="567.0" y="830.4"/>
<use href="#tri" x="581.0" y="840.7"/>
<use href="#tri" x="604.5" y="843.6"/>
<use href="#tri" x="625.7" y="847.0"/>
<use href="#tri" x="654.7" y="850.6"/>
<use href="#tri" x="678.0" y="856.3"/>
<use href="#tri" x="698.6" y="860.3"/>
<use href="#tri" x="728.1" y="866.3"/>
<use href="#tri" x="746.5" y="872.0"/>
<use href="#tri" x="759.0" y="872.6"/>
<use href="#tri" x="771.3" y="876.9"/>
<use href="#tri" x="786.8" y="880.4"/>
<use href="#tri" x="806.4" y="882.5"/>
<use href="#tri" x="823.2" y="884.0"/>
<use href="#tri" x="855.9" y="884.7"/>
<use href="#tri" x="874.6" y="886.8"/>
<use href="#tri" x="896.9" y="886.8"/>
<use href="#tri" x="918.9" y="886.8"/>
<use href="#tri" x="936.1" y="889.0"/>
<use href="#tri" x="951.0" y="889.0"/>
<use href="#tri" x="969.8" y="890.5"/>
<use href="#tri" x="987.5" y="893.6"/>
<use href="#tri" x="1006.2" y="895.7"/>
<use href="#tri" x="1036.0" y="897.9"/>
<use href="#tri" x="1053.3" y="897.9"/>
<use href="#tri" x="1072.8" y="897.9"/>
<use href="#tri" x="1102.5" y="897.9"/>
<use href="#tri" x="1125.5" y="902.8"/>
<use href="#tri" x="1146.4" y="903.5"/>
<use href="#tri" x="1163.0" y="904.2"/>
<use href="#tri" x="1182.8" y="907.8"/>
<use href="#tri" x="1197.6" y="917.7"/>
<use href="#tri" x="1204.7" y="920.5"/>
<use href="#tri" x="1217.9" y="925.5"/>
<use href="#tri" x="1226.6" y="931.1"/>
<use href="#tri" x="1248.7" y="937.5"/>
<use href="#tri" x="1263.3" y="940.5"/>
<use href="#tri" x="1285.0" y="943.6"/>
<use href="#tri" x="1299.7" y="950.0"/>
<use href="#tri" x="1317.4" y="954.2"/>
<use href="#tri" x="1336.5" y="956.4"/>
<use href="#tri" x="1354.6" y="958.5"/>
<use href="#tri" x="1373.0" y="960.3"/>
<use href="#tri" x="1391.4" y="962.4"/>
<use href="#tri" x="1410.2" y="964.1"/>
<use href="#tri" x="1432.0" y="963.4"/>
<use href="#tri" x="1453.4" y="966.3"/>
<use href="#tri" x="1476.0" y="970.2"/>
<use href="#tri" x="1492.6" y="973.3"/>
<use href="#tri" x="1507.2" y="975.5"/>
<use href="#tri" x="1527.3" y="976.5"/>
<use href="#tri" x="1544.2" y="979.5"/>
<use href="#tri" x="1562.5" y="980.2"/>
<use href="#tri" x="1578.8" y="984.4"/>
<use href="#tri" x="1600.3" y="986.5"/>
<use href="#tri" x="1622.7" y="990.5"/>
<use href="#tri" x="1636.8" y="992.2"/>
<use href="#tri" x="1649.3" y="993.6"/>
<use href="#tri" x="1666.5" y="993.6"/>
<use href="#tri" x="1696.3" y="996.5"/>
<use href="#tri" x="1714.7" y="997.2"/>
<use href="#tri" x="1723.4" y="997.2"/>
<use href="#tri" x="1741.8" y="997.6"/>
<use href="#tri" x="1755.0" y="997.6"/>
<use href="#tri" x="1784.0" y="997.6"/>
<use href="#tri" x="1799.6" y="997.6"/>
<use href="#tri" x="1813.6" y="997.4"/>
<use href="#tri" x="1828.4" y="1000.4"/>
<use href="#tri" x="1853.0" y="1003.0"/>
<use href="#tri" x="1864.8" y="1003.0"/>
<use href="#tri" x="1880.0" y="1007.0"/>
<use href="#tri" x="1894.2" y="1010.4"/>
<use href="#tri" x="1908.8" y="1017.0"/>
<use href="#tri" x="1915.9" y="1020.2"/>
<use href="#tri" x="1938.0" y="1029.5"/>
<use href="#tri" x="1945.3" y="1036.0"/>
<use href="#tri" x="1952.2" y="1052.7"/>
<use href="#tri" x="1960.2" y="1062.0"/>
<use href="#tri" x="1974.0" y="1079.5"/>
<polyline points="430.8,660.0 430.8,668.5 430.8,677.6 430.6,699.3 430.6,707.6 435.1,728.5 435.1,755.3 435.0,782.0 434.5,794.0 447.5,806.7 456.2,813.7 472.4,821.6 489.2,824.2 514.5,830.2 539.4,833.2 556.8,839.2 573.3,845.7 593.9,848.6 615.0,855.7 629.0,858.5 641.3,861.3 655.4,862.7 669.6,864.0 681.6,865.6 695.0,873.0 711.8,876.2 736.6,879.0 757.8,881.9 781.9,881.9 795.3,884.0 815.8,884.7 832.1,891.8 850.5,891.8 866.8,893.2 888.0,894.6 909.2,900.3 929.0,907.4 939.0,913.0 956.5,918.2 975.6,928.8 987.5,933.3 995.3,937.5 1013.7,950.3 1029.2,956.0 1043.4,956.0 1059.7,956.0 1085.1,959.5 1101.4,962.3 1122.6,962.3 1139.6,962.3 1152.3,962.3 1173.6,963.0 1183.5,963.0 1198.3,966.5 1210.4,969.4 1233.7,969.4 1247.2,971.5 1257.0,972.0 1273.5,972.0 1290.5,974.8 1307.5,972.0 1332.4,974.8 1358.2,974.8 1378.7,977.6 1404.1,980.5 1421.5,981.9 1434.9,984.7 1454.4,987.5 1479.6,989.0 1495.4,994.6 1513.1,1000.3 1529.4,1006.0 1540.0,1007.6 1559.0,1010.7 1571.0,1012.0 1583.8,1020.6 1593.0,1026.2 1604.3,1029.0 1613.5,1034.7 1623.4,1041.8 1638.7,1050.3 1651.7,1058.8 1663.7,1065.1 1676.5,1073.6" stroke="#000" stroke-width="5.5" stroke-dasharray="5.5,14.5"/>
<use href="#dia" x="430.8" y="660.0"/>
<use href="#dia" x="430.8" y="668.5"/>
<use href="#dia" x="430.8" y="677.6"/>
<use href="#dia" x="430.6" y="699.3"/>
<use href="#dia" x="430.6" y="707.6"/>
<use href="#dia" x="435.1" y="728.5"/>
<use href="#dia" x="435.1" y="755.3"/>
<use href="#dia" x="435.0" y="782.0"/>
<use href="#dia" x="434.5" y="794.0"/>
<use href="#dia" x="447.5" y="806.7"/>
<use href="#dia" x="456.2" y="813.7"/>
<use href="#dia" x="472.4" y="821.6"/>
<use href="#dia" x="489.2" y="824.2"/>
<use href="#dia" x="514.5" y="830.2"/>
<use href="#dia" x="539.4" y="833.2"/>
<use href="#dia" x="556.8" y="839.2"/>
<use href="#dia" x="573.3" y="845.7"/>
<use href="#dia" x="593.9" y="848.6"/>
<use href="#dia" x="615.0" y="855.7"/>
<use href="#dia" x="629.0" y="858.5"/>
<use href="#dia" x="641.3" y="861.3"/>
<use href="#dia" x="655.4" y="862.7"/>
<use href="#dia" x="669.6" y="864.0"/>
<use href="#dia" x="681.6" y="865.6"/>
<use href="#dia" x="695.0" y="873.0"/>
<use href="#dia" x="711.8" y="876.2"/>
<use href="#dia" x="736.6" y="879.0"/>
<use href="#dia" x="757.8" y="881.9"/>
<use href="#dia" x="781.9" y="881.9"/>
<use href="#dia" x="795.3" y="884.0"/>
<use href="#dia" x="815.8" y="884.7"/>
<use href="#dia" x="832.1" y="891.8"/>
<use href="#dia" x="850.5" y="891.8"/>
<use href="#dia" x="866.8" y="893.2"/>
<use href="#dia" x="888.0" y="894.6"/>
<use href="#dia" x="909.2" y="900.3"/>
<use href="#dia" x="929.0" y="907.4"/>
<use href="#dia" x="939.0" y="913.0"/>
<use href="#dia" x="956.5" y="918.2"/>
<use href="#dia" x="975.6" y="928.8"/>
<use href="#dia" x="987.5" y="933.3"/>
<use href="#dia" x="995.3" y="937.5"/>
<use href="#dia" x="1013.7" y="950.3"/>
<use href="#dia" x="1029.2" y="956.0"/>
<use href="#dia" x="1043.4" y="956.0"/>
<use href="#dia" x="1059.7" y="956.0"/>
<use href="#dia" x="1085.1" y="959.5"/>
<use href="#dia" x="1101.4" y="962.3"/>
<use href="#dia" x="1122.6" y="962.3"/>
<use href="#dia" x="1139.6" y="962.3"/>
<use href="#dia" x="1152.3" y="962.3"/>
<use href="#dia" x="1173.6" y="963.0"/>
<use href="#dia" x="1183.5" y="963.0"/>
<use href="#dia" x="1198.3" y="966.5"/>
<use href="#dia" x="1210.4" y="969.4"/>
<use href="#dia" x="1233.7" y="969.4"/>
<use href="#dia" x="1247.2" y="971.5"/>
<use href="#dia" x="1257.0" y="972.0"/>
<use href="#dia" x="1273.5" y="972.0"/>
<use href="#dia" x="1290.5" y="974.8"/>
<use href="#dia" x="1307.5" y="972.0"/>
<use href="#dia" x="1332.4" y="974.8"/>
<use href="#dia" x="1358.2" y="974.8"/>
<use href="#dia" x="1378.7" y="977.6"/>
<use href="#dia" x="1404.1" y="980.5"/>
<use href="#dia" x="1421.5" y="981.9"/>
<use href="#dia" x="1434.9" y="984.7"/>
<use href="#dia" x="1454.4" y="987.5"/>
<use href="#dia" x="1479.6" y="989.0"/>
<use href="#dia" x="1495.4" y="994.6"/>
<use href="#dia" x="1513.1" y="1000.3"/>
<use href="#dia" x="1529.4" y="1006.0"/>
<use href="#dia" x="1540.0" y="1007.6"/>
<use href="#dia" x="1559.0" y="1010.7"/>
<use href="#dia" x="1571.0" y="1012.0"/>
<use href="#dia" x="1583.8" y="1020.6"/>
<use href="#dia" x="1593.0" y="1026.2"/>
<use href="#dia" x="1604.3" y="1029.0"/>
<use href="#dia" x="1613.5" y="1034.7"/>
<use href="#dia" x="1623.4" y="1041.8"/>
<use href="#dia" x="1638.7" y="1050.3"/>
<use href="#dia" x="1651.7" y="1058.8"/>
<use href="#dia" x="1663.7" y="1065.1"/>
<use href="#dia" x="1676.5" y="1073.6"/>
</g>
<g stroke="#000" fill="none">
<rect x="218" y="43" width="1836" height="1370" stroke-width="6"/>
<path d="M218.0,1413 v-34 M218.0,43 v34 M401.6,1413 v-17 M401.6,43 v17 M585.2,1413 v-34 M585.2,43 v34 M768.8,1413 v-17 M768.8,43 v17 M952.4,1413 v-34 M952.4,43 v34 M1136.0,1413 v-17 M1136.0,43 v17 M1319.6,1413 v-34 M1319.6,43 v34 M1503.2,1413 v-17 M1503.2,43 v17 M1686.8,1413 v-34 M1686.8,43 v34 M1870.4,1413 v-17 M1870.4,43 v17 M2054.0,1413 v-34 M2054.0,43 v34" stroke-width="6"/>
<path d="M218,1413.0 h34 M2054,1413.0 h-34 M218,1241.8 h17 M2054,1241.8 h-17 M218,1070.5 h34 M2054,1070.5 h-34 M218,899.2 h17 M2054,899.2 h-17 M218,728.0 h34 M2054,728.0 h-34 M218,556.8 h17 M2054,556.8 h-17 M218,385.5 h34 M2054,385.5 h-34 M218,214.2 h17 M2054,214.2 h-17 M218,43.0 h34 M2054,43.0 h-34" stroke-width="3.5"/>
</g>
<g class="tk" fill="#000">
<text transform="translate(204.5,1434.0) scale(1,1.05)" font-size="60" text-anchor="end">0.0</text>
<text transform="translate(204.5,1091.5) scale(1,1.05)" font-size="60" text-anchor="end">1.0</text>
<text transform="translate(204.5,749.0) scale(1,1.05)" font-size="60" text-anchor="end">2.0</text>
<text transform="translate(204.5,406.5) scale(1,1.05)" font-size="60" text-anchor="end">3.0</text>
<text transform="translate(204.5,64.0) scale(1,1.05)" font-size="60" text-anchor="end">4.0</text>
<text transform="translate(219.0,1476.8) scale(1,1.05)" font-size="65" text-anchor="middle">0.0</text>
<text transform="translate(586.2,1476.8) scale(1,1.05)" font-size="65" text-anchor="middle">1.0</text>
<text transform="translate(953.4,1476.8) scale(1,1.05)" font-size="65" text-anchor="middle">2.0</text>
<text transform="translate(1320.6,1476.8) scale(1,1.05)" font-size="65" text-anchor="middle">3.0</text>
<text transform="translate(1687.8,1476.8) scale(1,1.05)" font-size="65" text-anchor="middle">4.0</text>
<text transform="translate(2055.0,1476.8) scale(1,1.05)" font-size="65" text-anchor="middle">5.0</text>
</g>
<g class="lb" fill="#000">
<text transform="translate(1137.0,1551.5) scale(1,1.02)" font-size="82" text-anchor="middle">Capacity (arb. units)</text>
<text transform="translate(86.0,724.2) rotate(-90) scale(1.009,1)" font-size="88" text-anchor="middle">Voltage (V)</text>
</g>
<rect x="1136" y="110" width="593" height="661" fill="#fff" stroke="#000" stroke-width="6"/>
<line x1="1172" y1="161.7" x2="1305.7" y2="161.7" stroke="#ffa500" stroke-width="5.8" stroke-dasharray="5,15,25,15"/>
<text class="lb" transform="translate(1340.5,195) scale(1,1.035)" font-size="100">U=3eV</text>
<line x1="1172" y1="248.8" x2="1305.7" y2="248.8" stroke="#0000ff" stroke-width="5.8" stroke-dasharray="25,15,5,15,25,15"/>
<text class="lb" transform="translate(1340.5,283) scale(1,1.035)" font-size="100">U=3.5eV</text>
<line x1="1172" y1="336.6" x2="1307" y2="336.6" stroke="#ff00ff" stroke-width="5.8" stroke-dasharray="35,15"/>
<text class="lb" transform="translate(1340.5,370.5) scale(1,1.035)" font-size="100">U=4eV</text>
<line x1="1172" y1="423.4" x2="1305.7" y2="423.4" stroke="#008b00" stroke-width="5.8" stroke-dasharray="5,15,25,15,5,15"/>
<text class="lb" transform="translate(1340.5,458) scale(1,1.035)" font-size="100">U=4.5eV</text>
<line x1="1172" y1="510.8" x2="1305.7" y2="510.8" stroke="#40e0d0" stroke-width="5.8"/>
<text class="lb" transform="translate(1340.5,544.5) scale(1,1.035)" font-size="100">U=5eV</text>
<line x1="1172" y1="606.3" x2="1305.7" y2="606.3" stroke="#000" stroke-width="2.6" stroke-dasharray="2.6,7.4"/>
<use href="#tri" x="1172.5" y="606.3"/><use href="#tri" x="1305.7" y="606.3"/>
<text class="lb" transform="translate(1340.5,629.6) scale(1,1.015)" font-size="100">Exp.</text>
<line x1="1172" y1="710.6" x2="1305.7" y2="710.6" stroke="#000" stroke-width="5.5" stroke-dasharray="5.5,14.5"/>
<use href="#dia" x="1172.5" y="710.6"/><use href="#dia" x="1305.7" y="710.6"/>
<text class="lb" transform="translate(1340.5,733.9) scale(1,1.015)" font-size="100">Exp.</text>
</svg></body></html>
